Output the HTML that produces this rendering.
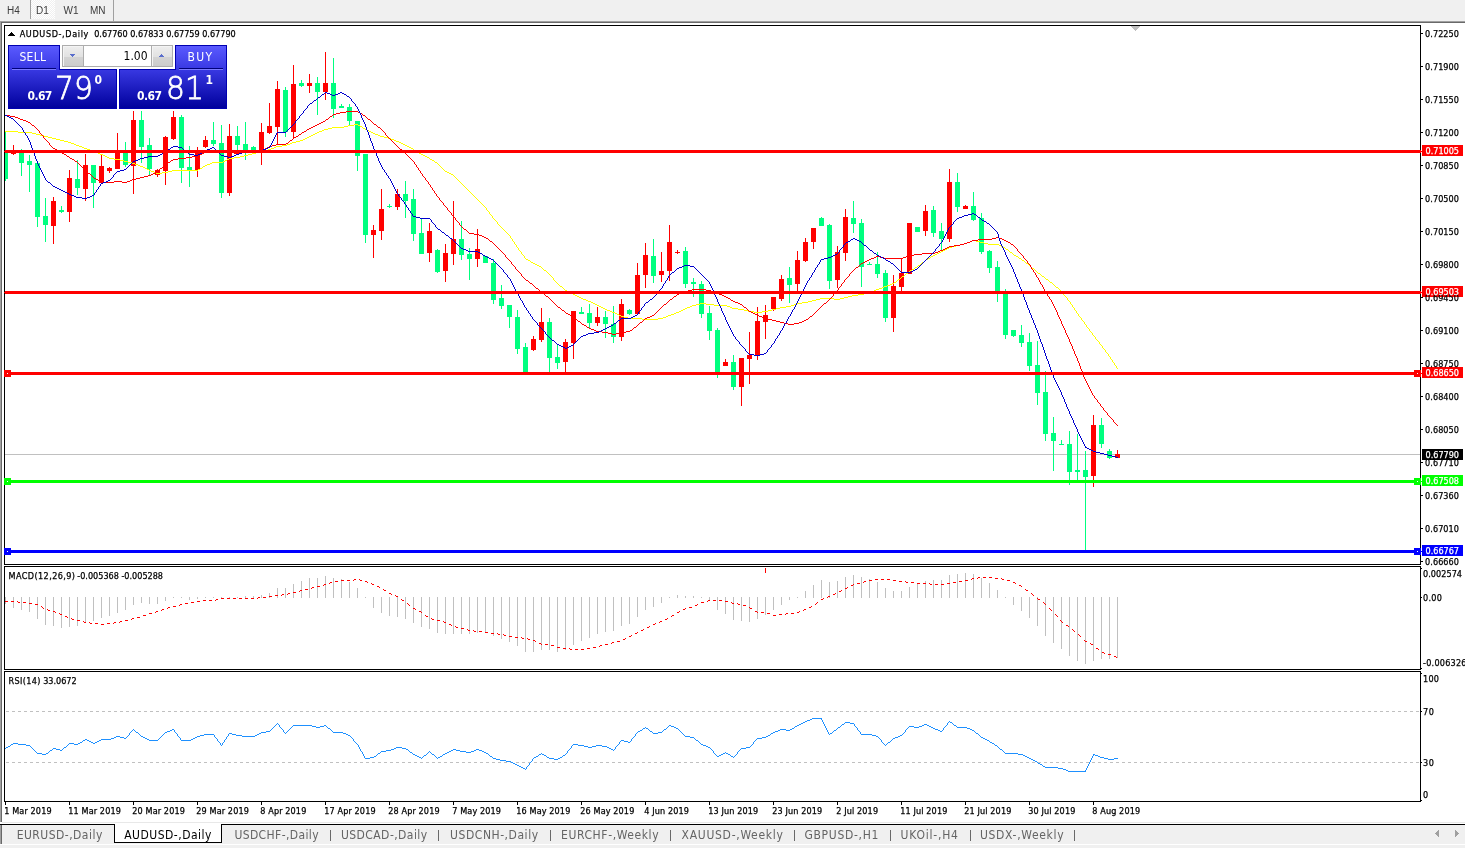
<!DOCTYPE html>
<html><head><meta charset="utf-8"><title>AUDUSD-,Daily</title>
<style>
html,body{margin:0;padding:0;}
body{width:1465px;height:848px;background:#fff;position:relative;overflow:hidden;font-family:"DejaVu Sans Condensed","Liberation Sans",sans-serif;}
.t{position:absolute;white-space:nowrap;line-height:1;}
.s{-webkit-text-stroke:0.25px currentColor;}
svg{position:absolute;left:0;top:0;}
.bx{position:absolute;left:1422px;width:41px;height:11px;}
#top{position:absolute;left:0;top:0;width:1465px;height:21px;background:#f0f0f0;}
#topline{position:absolute;left:0;top:21px;width:1465px;height:2px;background:linear-gradient(#a0a0a0 50%,#696969 50%);}
#leftband{position:absolute;left:0;top:22px;width:2px;height:800px;background:linear-gradient(90deg,#a0a0a0 50%,#696969 50%);}
#leftband2{position:absolute;left:0;top:825px;width:2px;height:19px;background:linear-gradient(90deg,#a0a0a0 50%,#696969 50%);}
#bot{position:absolute;left:0;top:825px;width:1465px;height:23px;background:#f0f0f0;}
#botline{position:absolute;left:0;top:824px;width:1465px;height:1px;background:#000;}
#botline0{position:absolute;left:2px;top:822px;width:1465px;height:1px;background:#e8e8e8;}
#botw{position:absolute;left:0;top:844px;width:1465px;height:1px;background:#fff;}
#act{position:absolute;left:114px;top:824px;width:106px;height:18px;background:#fff;border:1px solid #000;border-top:none;}
.sep{position:absolute;top:830px;width:1px;height:11px;background:#696969;}
.bigd{position:absolute;color:#fff;font-family:"DejaVu Sans","Liberation Sans",sans-serif;font-weight:200;font-size:32px;line-height:1;white-space:nowrap;-webkit-text-stroke:0.8px #fff;transform-origin:0 0;transform:scaleX(0.93);}
</style></head><body>
<div id="top"></div><div id="topline"></div>
<div id="leftband"></div>
<div style="position:absolute;left:30px;top:0;width:1px;height:19px;background:#a0a0a0"></div>
<div style="position:absolute;left:31px;top:0;width:24px;height:19px;background:#f8f8f8;background-image:conic-gradient(#fff 25%,#f0f0f0 0 50%,#fff 0 75%,#f0f0f0 0);background-size:2px 2px"></div>
<div style="position:absolute;left:113px;top:0;width:1px;height:21px;background:#a0a0a0"></div>
<svg width="1465" height="848" viewBox="0 0 1465 848" shape-rendering="crispEdges">
<defs><clipPath id="cp"><rect x="5" y="26" width="1415" height="776"/></clipPath></defs><g clip-path="url(#cp)">
<rect x="5" y="454" width="1415" height="1" fill="#c0c0c0"/>
<rect x="5" y="131" width="1" height="50" fill="#00ff7f"/>
<rect x="3" y="150" width="5" height="29" fill="#00ff7f"/>
<rect x="13" y="145" width="1" height="10" fill="#ff0000"/>
<rect x="11" y="150" width="5" height="4" fill="#ff0000"/>
<rect x="21" y="149" width="1" height="27" fill="#00ff7f"/>
<rect x="19" y="153" width="5" height="10" fill="#00ff7f"/>
<rect x="29" y="155" width="1" height="37" fill="#00ff7f"/>
<rect x="27" y="161" width="5" height="4" fill="#00ff7f"/>
<rect x="37" y="163" width="1" height="64" fill="#00ff7f"/>
<rect x="35" y="163" width="5" height="54" fill="#00ff7f"/>
<rect x="45" y="198" width="1" height="44" fill="#00ff7f"/>
<rect x="43" y="216" width="5" height="9" fill="#00ff7f"/>
<rect x="53" y="197" width="1" height="47" fill="#ff0000"/>
<rect x="51" y="201" width="5" height="25" fill="#ff0000"/>
<rect x="61" y="206" width="1" height="7" fill="#00ff7f"/>
<rect x="59" y="210" width="5" height="2" fill="#00ff7f"/>
<rect x="69" y="170" width="1" height="52" fill="#ff0000"/>
<rect x="67" y="178" width="5" height="34" fill="#ff0000"/>
<rect x="77" y="160" width="1" height="35" fill="#00ff7f"/>
<rect x="75" y="179" width="5" height="9" fill="#00ff7f"/>
<rect x="85" y="154" width="1" height="47" fill="#ff0000"/>
<rect x="83" y="165" width="5" height="24" fill="#ff0000"/>
<rect x="93" y="165" width="1" height="43" fill="#00ff7f"/>
<rect x="91" y="165" width="5" height="18" fill="#00ff7f"/>
<rect x="101" y="155" width="1" height="28" fill="#ff0000"/>
<rect x="99" y="166" width="5" height="17" fill="#ff0000"/>
<rect x="109" y="167" width="1" height="6" fill="#ff0000"/>
<rect x="107" y="168" width="5" height="3" fill="#ff0000"/>
<rect x="117" y="133" width="1" height="36" fill="#ff0000"/>
<rect x="115" y="152" width="5" height="17" fill="#ff0000"/>
<rect x="125" y="142" width="1" height="25" fill="#00ff7f"/>
<rect x="123" y="153" width="5" height="12" fill="#00ff7f"/>
<rect x="133" y="111" width="1" height="83" fill="#ff0000"/>
<rect x="131" y="120" width="5" height="46" fill="#ff0000"/>
<rect x="141" y="111" width="1" height="52" fill="#00ff7f"/>
<rect x="139" y="120" width="5" height="27" fill="#00ff7f"/>
<rect x="149" y="138" width="1" height="38" fill="#00ff7f"/>
<rect x="147" y="145" width="5" height="24" fill="#00ff7f"/>
<rect x="157" y="169" width="1" height="8" fill="#ff0000"/>
<rect x="155" y="170" width="5" height="5" fill="#ff0000"/>
<rect x="165" y="136" width="1" height="49" fill="#ff0000"/>
<rect x="163" y="137" width="5" height="34" fill="#ff0000"/>
<rect x="173" y="111" width="1" height="29" fill="#ff0000"/>
<rect x="171" y="117" width="5" height="22" fill="#ff0000"/>
<rect x="181" y="115" width="1" height="68" fill="#00ff7f"/>
<rect x="179" y="117" width="5" height="51" fill="#00ff7f"/>
<rect x="189" y="146" width="1" height="41" fill="#00ff7f"/>
<rect x="187" y="167" width="5" height="3" fill="#00ff7f"/>
<rect x="197" y="147" width="1" height="30" fill="#ff0000"/>
<rect x="195" y="151" width="5" height="19" fill="#ff0000"/>
<rect x="205" y="136" width="1" height="12" fill="#ff0000"/>
<rect x="203" y="140" width="5" height="7" fill="#ff0000"/>
<rect x="213" y="122" width="1" height="24" fill="#00ff7f"/>
<rect x="211" y="140" width="5" height="4" fill="#00ff7f"/>
<rect x="221" y="125" width="1" height="73" fill="#00ff7f"/>
<rect x="219" y="143" width="5" height="50" fill="#00ff7f"/>
<rect x="229" y="124" width="1" height="72" fill="#ff0000"/>
<rect x="227" y="136" width="5" height="57" fill="#ff0000"/>
<rect x="237" y="126" width="1" height="24" fill="#00ff7f"/>
<rect x="235" y="136" width="5" height="9" fill="#00ff7f"/>
<rect x="245" y="122" width="1" height="38" fill="#00ff7f"/>
<rect x="243" y="144" width="5" height="6" fill="#00ff7f"/>
<rect x="253" y="146" width="1" height="4" fill="#00ff7f"/>
<rect x="251" y="147" width="5" height="3" fill="#00ff7f"/>
<rect x="261" y="123" width="1" height="42" fill="#ff0000"/>
<rect x="259" y="132" width="5" height="20" fill="#ff0000"/>
<rect x="269" y="103" width="1" height="31" fill="#ff0000"/>
<rect x="267" y="126" width="5" height="7" fill="#ff0000"/>
<rect x="277" y="81" width="1" height="63" fill="#ff0000"/>
<rect x="275" y="89" width="5" height="38" fill="#ff0000"/>
<rect x="285" y="87" width="1" height="50" fill="#00ff7f"/>
<rect x="283" y="90" width="5" height="42" fill="#00ff7f"/>
<rect x="293" y="65" width="1" height="73" fill="#ff0000"/>
<rect x="291" y="84" width="5" height="48" fill="#ff0000"/>
<rect x="301" y="80" width="1" height="7" fill="#00ff7f"/>
<rect x="299" y="83" width="5" height="3" fill="#00ff7f"/>
<rect x="309" y="74" width="1" height="19" fill="#ff0000"/>
<rect x="307" y="83" width="5" height="3" fill="#ff0000"/>
<rect x="317" y="77" width="1" height="38" fill="#00ff7f"/>
<rect x="315" y="83" width="5" height="9" fill="#00ff7f"/>
<rect x="325" y="52" width="1" height="48" fill="#ff0000"/>
<rect x="323" y="83" width="5" height="9" fill="#ff0000"/>
<rect x="333" y="58" width="1" height="60" fill="#00ff7f"/>
<rect x="331" y="83" width="5" height="26" fill="#00ff7f"/>
<rect x="341" y="104" width="1" height="4" fill="#00ff7f"/>
<rect x="339" y="106" width="5" height="2" fill="#00ff7f"/>
<rect x="349" y="104" width="1" height="21" fill="#00ff7f"/>
<rect x="347" y="107" width="5" height="14" fill="#00ff7f"/>
<rect x="357" y="121" width="1" height="50" fill="#00ff7f"/>
<rect x="355" y="121" width="5" height="35" fill="#00ff7f"/>
<rect x="365" y="154" width="1" height="89" fill="#00ff7f"/>
<rect x="363" y="154" width="5" height="81" fill="#00ff7f"/>
<rect x="373" y="225" width="1" height="33" fill="#ff0000"/>
<rect x="371" y="230" width="5" height="5" fill="#ff0000"/>
<rect x="381" y="189" width="1" height="51" fill="#ff0000"/>
<rect x="379" y="209" width="5" height="22" fill="#ff0000"/>
<rect x="389" y="204" width="1" height="4" fill="#00ff7f"/>
<rect x="387" y="206" width="5" height="1" fill="#00ff7f"/>
<rect x="397" y="189" width="1" height="21" fill="#ff0000"/>
<rect x="395" y="194" width="5" height="13" fill="#ff0000"/>
<rect x="405" y="181" width="1" height="37" fill="#00ff7f"/>
<rect x="403" y="194" width="5" height="7" fill="#00ff7f"/>
<rect x="413" y="189" width="1" height="52" fill="#00ff7f"/>
<rect x="411" y="199" width="5" height="35" fill="#00ff7f"/>
<rect x="421" y="219" width="1" height="35" fill="#00ff7f"/>
<rect x="419" y="233" width="5" height="21" fill="#00ff7f"/>
<rect x="429" y="223" width="1" height="39" fill="#ff0000"/>
<rect x="427" y="231" width="5" height="22" fill="#ff0000"/>
<rect x="437" y="249" width="1" height="24" fill="#00ff7f"/>
<rect x="435" y="250" width="5" height="22" fill="#00ff7f"/>
<rect x="445" y="244" width="1" height="38" fill="#ff0000"/>
<rect x="443" y="253" width="5" height="18" fill="#ff0000"/>
<rect x="453" y="201" width="1" height="64" fill="#ff0000"/>
<rect x="451" y="239" width="5" height="15" fill="#ff0000"/>
<rect x="461" y="221" width="1" height="39" fill="#00ff7f"/>
<rect x="459" y="239" width="5" height="16" fill="#00ff7f"/>
<rect x="469" y="248" width="1" height="32" fill="#00ff7f"/>
<rect x="467" y="254" width="5" height="5" fill="#00ff7f"/>
<rect x="477" y="229" width="1" height="38" fill="#ff0000"/>
<rect x="475" y="249" width="5" height="10" fill="#ff0000"/>
<rect x="485" y="256" width="1" height="7" fill="#00ff7f"/>
<rect x="483" y="256" width="5" height="7" fill="#00ff7f"/>
<rect x="493" y="259" width="1" height="45" fill="#00ff7f"/>
<rect x="491" y="263" width="5" height="37" fill="#00ff7f"/>
<rect x="501" y="285" width="1" height="24" fill="#00ff7f"/>
<rect x="499" y="298" width="5" height="8" fill="#00ff7f"/>
<rect x="509" y="305" width="1" height="23" fill="#00ff7f"/>
<rect x="507" y="305" width="5" height="12" fill="#00ff7f"/>
<rect x="517" y="310" width="1" height="44" fill="#00ff7f"/>
<rect x="515" y="317" width="5" height="32" fill="#00ff7f"/>
<rect x="525" y="343" width="1" height="31" fill="#00ff7f"/>
<rect x="523" y="347" width="5" height="27" fill="#00ff7f"/>
<rect x="533" y="336" width="1" height="15" fill="#ff0000"/>
<rect x="531" y="339" width="5" height="11" fill="#ff0000"/>
<rect x="541" y="308" width="1" height="34" fill="#ff0000"/>
<rect x="539" y="322" width="5" height="18" fill="#ff0000"/>
<rect x="549" y="318" width="1" height="56" fill="#00ff7f"/>
<rect x="547" y="322" width="5" height="36" fill="#00ff7f"/>
<rect x="557" y="344" width="1" height="25" fill="#00ff7f"/>
<rect x="555" y="357" width="5" height="6" fill="#00ff7f"/>
<rect x="565" y="339" width="1" height="34" fill="#ff0000"/>
<rect x="563" y="342" width="5" height="20" fill="#ff0000"/>
<rect x="573" y="311" width="1" height="48" fill="#ff0000"/>
<rect x="571" y="311" width="5" height="32" fill="#ff0000"/>
<rect x="581" y="307" width="1" height="7" fill="#00ff7f"/>
<rect x="579" y="312" width="5" height="2" fill="#00ff7f"/>
<rect x="589" y="304" width="1" height="25" fill="#00ff7f"/>
<rect x="587" y="313" width="5" height="10" fill="#00ff7f"/>
<rect x="597" y="307" width="1" height="19" fill="#ff0000"/>
<rect x="595" y="317" width="5" height="6" fill="#ff0000"/>
<rect x="605" y="311" width="1" height="27" fill="#00ff7f"/>
<rect x="603" y="317" width="5" height="7" fill="#00ff7f"/>
<rect x="613" y="306" width="1" height="37" fill="#00ff7f"/>
<rect x="611" y="324" width="5" height="13" fill="#00ff7f"/>
<rect x="621" y="299" width="1" height="42" fill="#ff0000"/>
<rect x="619" y="304" width="5" height="33" fill="#ff0000"/>
<rect x="629" y="309" width="1" height="6" fill="#00ff7f"/>
<rect x="627" y="310" width="5" height="4" fill="#00ff7f"/>
<rect x="637" y="263" width="1" height="52" fill="#ff0000"/>
<rect x="635" y="275" width="5" height="39" fill="#ff0000"/>
<rect x="645" y="243" width="1" height="45" fill="#ff0000"/>
<rect x="643" y="255" width="5" height="20" fill="#ff0000"/>
<rect x="653" y="239" width="1" height="44" fill="#00ff7f"/>
<rect x="651" y="256" width="5" height="20" fill="#00ff7f"/>
<rect x="661" y="252" width="1" height="30" fill="#ff0000"/>
<rect x="659" y="271" width="5" height="4" fill="#ff0000"/>
<rect x="669" y="225" width="1" height="56" fill="#ff0000"/>
<rect x="667" y="242" width="5" height="29" fill="#ff0000"/>
<rect x="677" y="250" width="1" height="4" fill="#ff0000"/>
<rect x="675" y="252" width="5" height="1" fill="#ff0000"/>
<rect x="685" y="247" width="1" height="41" fill="#00ff7f"/>
<rect x="683" y="251" width="5" height="33" fill="#00ff7f"/>
<rect x="693" y="278" width="1" height="19" fill="#00ff7f"/>
<rect x="691" y="282" width="5" height="2" fill="#00ff7f"/>
<rect x="701" y="281" width="1" height="37" fill="#00ff7f"/>
<rect x="699" y="284" width="5" height="30" fill="#00ff7f"/>
<rect x="709" y="306" width="1" height="34" fill="#00ff7f"/>
<rect x="707" y="313" width="5" height="18" fill="#00ff7f"/>
<rect x="717" y="328" width="1" height="50" fill="#00ff7f"/>
<rect x="715" y="330" width="5" height="44" fill="#00ff7f"/>
<rect x="725" y="359" width="1" height="7" fill="#ff0000"/>
<rect x="723" y="362" width="5" height="4" fill="#ff0000"/>
<rect x="733" y="355" width="1" height="35" fill="#00ff7f"/>
<rect x="731" y="362" width="5" height="25" fill="#00ff7f"/>
<rect x="741" y="358" width="1" height="48" fill="#ff0000"/>
<rect x="739" y="358" width="5" height="29" fill="#ff0000"/>
<rect x="749" y="332" width="1" height="52" fill="#ff0000"/>
<rect x="747" y="355" width="5" height="4" fill="#ff0000"/>
<rect x="757" y="307" width="1" height="53" fill="#ff0000"/>
<rect x="755" y="321" width="5" height="35" fill="#ff0000"/>
<rect x="765" y="305" width="1" height="34" fill="#ff0000"/>
<rect x="763" y="315" width="5" height="7" fill="#ff0000"/>
<rect x="773" y="297" width="1" height="14" fill="#ff0000"/>
<rect x="771" y="297" width="5" height="12" fill="#ff0000"/>
<rect x="781" y="275" width="1" height="26" fill="#ff0000"/>
<rect x="779" y="279" width="5" height="20" fill="#ff0000"/>
<rect x="789" y="267" width="1" height="36" fill="#00ff7f"/>
<rect x="787" y="278" width="5" height="7" fill="#00ff7f"/>
<rect x="797" y="251" width="1" height="40" fill="#ff0000"/>
<rect x="795" y="260" width="5" height="24" fill="#ff0000"/>
<rect x="805" y="238" width="1" height="24" fill="#ff0000"/>
<rect x="803" y="242" width="5" height="19" fill="#ff0000"/>
<rect x="813" y="228" width="1" height="21" fill="#ff0000"/>
<rect x="811" y="228" width="5" height="14" fill="#ff0000"/>
<rect x="821" y="217" width="1" height="9" fill="#00ff7f"/>
<rect x="819" y="218" width="5" height="8" fill="#00ff7f"/>
<rect x="829" y="224" width="1" height="65" fill="#00ff7f"/>
<rect x="827" y="225" width="5" height="56" fill="#00ff7f"/>
<rect x="837" y="246" width="1" height="42" fill="#ff0000"/>
<rect x="835" y="252" width="5" height="28" fill="#ff0000"/>
<rect x="845" y="209" width="1" height="52" fill="#ff0000"/>
<rect x="843" y="217" width="5" height="36" fill="#ff0000"/>
<rect x="853" y="201" width="1" height="32" fill="#00ff7f"/>
<rect x="851" y="218" width="5" height="6" fill="#00ff7f"/>
<rect x="861" y="219" width="1" height="68" fill="#00ff7f"/>
<rect x="859" y="223" width="5" height="44" fill="#00ff7f"/>
<rect x="869" y="262" width="1" height="3" fill="#00ff7f"/>
<rect x="867" y="264" width="5" height="1" fill="#00ff7f"/>
<rect x="877" y="252" width="1" height="26" fill="#00ff7f"/>
<rect x="875" y="264" width="5" height="10" fill="#00ff7f"/>
<rect x="885" y="270" width="1" height="52" fill="#00ff7f"/>
<rect x="883" y="273" width="5" height="45" fill="#00ff7f"/>
<rect x="893" y="275" width="1" height="57" fill="#ff0000"/>
<rect x="891" y="286" width="5" height="32" fill="#ff0000"/>
<rect x="901" y="259" width="1" height="32" fill="#ff0000"/>
<rect x="899" y="273" width="5" height="14" fill="#ff0000"/>
<rect x="909" y="223" width="1" height="51" fill="#ff0000"/>
<rect x="907" y="223" width="5" height="51" fill="#ff0000"/>
<rect x="917" y="227" width="1" height="5" fill="#00ff7f"/>
<rect x="915" y="227" width="5" height="5" fill="#00ff7f"/>
<rect x="925" y="205" width="1" height="31" fill="#ff0000"/>
<rect x="923" y="211" width="5" height="20" fill="#ff0000"/>
<rect x="933" y="206" width="1" height="31" fill="#00ff7f"/>
<rect x="931" y="210" width="5" height="23" fill="#00ff7f"/>
<rect x="941" y="223" width="1" height="27" fill="#00ff7f"/>
<rect x="939" y="231" width="5" height="8" fill="#00ff7f"/>
<rect x="949" y="169" width="1" height="73" fill="#ff0000"/>
<rect x="947" y="182" width="5" height="57" fill="#ff0000"/>
<rect x="957" y="173" width="1" height="39" fill="#00ff7f"/>
<rect x="955" y="182" width="5" height="25" fill="#00ff7f"/>
<rect x="965" y="205" width="1" height="4" fill="#ff0000"/>
<rect x="963" y="206" width="5" height="3" fill="#ff0000"/>
<rect x="973" y="192" width="1" height="29" fill="#00ff7f"/>
<rect x="971" y="206" width="5" height="14" fill="#00ff7f"/>
<rect x="981" y="213" width="1" height="41" fill="#00ff7f"/>
<rect x="979" y="218" width="5" height="34" fill="#00ff7f"/>
<rect x="989" y="250" width="1" height="23" fill="#00ff7f"/>
<rect x="987" y="251" width="5" height="17" fill="#00ff7f"/>
<rect x="997" y="261" width="1" height="41" fill="#00ff7f"/>
<rect x="995" y="267" width="5" height="26" fill="#00ff7f"/>
<rect x="1005" y="289" width="1" height="50" fill="#00ff7f"/>
<rect x="1003" y="294" width="5" height="41" fill="#00ff7f"/>
<rect x="1013" y="330" width="1" height="7" fill="#00ff7f"/>
<rect x="1011" y="330" width="5" height="6" fill="#00ff7f"/>
<rect x="1021" y="325" width="1" height="22" fill="#00ff7f"/>
<rect x="1019" y="335" width="5" height="8" fill="#00ff7f"/>
<rect x="1029" y="333" width="1" height="38" fill="#00ff7f"/>
<rect x="1027" y="342" width="5" height="24" fill="#00ff7f"/>
<rect x="1037" y="341" width="1" height="64" fill="#00ff7f"/>
<rect x="1035" y="365" width="5" height="28" fill="#00ff7f"/>
<rect x="1045" y="371" width="1" height="70" fill="#00ff7f"/>
<rect x="1043" y="392" width="5" height="42" fill="#00ff7f"/>
<rect x="1053" y="417" width="1" height="54" fill="#00ff7f"/>
<rect x="1051" y="433" width="5" height="8" fill="#00ff7f"/>
<rect x="1061" y="440" width="1" height="5" fill="#00ff7f"/>
<rect x="1059" y="444" width="5" height="1" fill="#00ff7f"/>
<rect x="1069" y="431" width="1" height="54" fill="#00ff7f"/>
<rect x="1067" y="444" width="5" height="28" fill="#00ff7f"/>
<rect x="1077" y="434" width="1" height="49" fill="#00ff7f"/>
<rect x="1075" y="470" width="5" height="2" fill="#00ff7f"/>
<rect x="1085" y="451" width="1" height="99" fill="#00ff7f"/>
<rect x="1083" y="470" width="5" height="7" fill="#00ff7f"/>
<rect x="1093" y="415" width="1" height="72" fill="#ff0000"/>
<rect x="1091" y="425" width="5" height="51" fill="#ff0000"/>
<rect x="1101" y="418" width="1" height="30" fill="#00ff7f"/>
<rect x="1099" y="425" width="5" height="19" fill="#00ff7f"/>
<rect x="1109" y="449" width="1" height="10" fill="#00ff7f"/>
<rect x="1107" y="451" width="5" height="7" fill="#00ff7f"/>
<rect x="1117" y="450" width="1" height="8" fill="#ff0000"/>
<rect x="1115" y="454" width="5" height="4" fill="#ff0000"/>
<path d="M354 124h4v1h-4zM348 125h6v1h-6zM358 125h2v1h-2zM344 126h4v1h-4zM360 126h2v1h-2zM332 127h12v1h-12zM362 127h1v1h-1zM328 128h4v1h-4zM363 128h2v1h-2zM324 129h4v1h-4zM365 129h2v1h-2zM322 130h2v1h-2zM367 130h2v1h-2zM5 131h13v1h-13zM319 131h3v1h-3zM369 131h2v1h-2zM18 132h14v1h-14zM317 132h2v1h-2zM371 132h2v1h-2zM32 133h4v1h-4zM315 133h2v1h-2zM373 133h2v1h-2zM36 134h4v1h-4zM313 134h2v1h-2zM375 134h3v1h-3zM40 135h4v1h-4zM311 135h2v1h-2zM378 135h2v1h-2zM44 136h4v1h-4zM309 136h2v1h-2zM380 136h4v1h-4zM48 137h4v1h-4zM307 137h2v1h-2zM384 137h4v1h-4zM52 138h4v1h-4zM305 138h2v1h-2zM388 138h3v1h-3zM56 139h4v1h-4zM303 139h2v1h-2zM391 139h3v1h-3zM60 140h4v1h-4zM300 140h3v1h-3zM394 140h2v1h-2zM64 141h4v1h-4zM296 141h4v1h-4zM396 141h3v1h-3zM68 142h3v1h-3zM292 142h4v1h-4zM399 142h2v1h-2zM71 143h3v1h-3zM290 143h2v1h-2zM401 143h2v1h-2zM74 144h2v1h-2zM287 144h3v1h-3zM403 144h2v1h-2zM76 145h3v1h-3zM282 145h5v1h-5zM405 145h2v1h-2zM79 146h3v1h-3zM276 146h6v1h-6zM407 146h2v1h-2zM82 147h2v1h-2zM274 147h2v1h-2zM409 147h2v1h-2zM84 148h3v1h-3zM271 148h3v1h-3zM411 148h2v1h-2zM87 149h3v1h-3zM268 149h3v1h-3zM413 149h1v1h-1zM90 150h2v1h-2zM264 150h4v1h-4zM414 150h2v1h-2zM92 151h3v1h-3zM260 151h4v1h-4zM416 151h2v1h-2zM95 152h3v1h-3zM256 152h4v1h-4zM418 152h1v1h-1zM98 153h2v1h-2zM252 153h4v1h-4zM419 153h2v1h-2zM100 154h3v1h-3zM248 154h4v1h-4zM421 154h2v1h-2zM103 155h2v1h-2zM244 155h4v1h-4zM423 155h2v1h-2zM105 156h2v1h-2zM240 156h4v1h-4zM425 156h2v1h-2zM107 157h2v1h-2zM234 157h6v1h-6zM427 157h2v1h-2zM109 158h5v1h-5zM229 158h5v1h-5zM429 158h1v1h-1zM114 159h6v1h-6zM227 159h2v1h-2zM430 159h2v1h-2zM120 160h4v1h-4zM225 160h2v1h-2zM432 160h2v1h-2zM124 161h4v1h-4zM223 161h2v1h-2zM434 161h1v1h-1zM128 162h4v1h-4zM212 162h11v1h-11zM435 162h2v1h-2zM132 163h3v1h-3zM210 163h2v1h-2zM437 163h1v1h-1zM135 164h3v1h-3zM207 164h3v1h-3zM438 164h1v1h-1zM138 165h2v1h-2zM205 165h2v1h-2zM439 165h1v1h-1zM140 166h3v1h-3zM203 166h2v1h-2zM440 166h1v1h-1zM143 167h2v1h-2zM202 167h1v1h-1zM441 167h1v1h-1zM145 168h2v1h-2zM200 168h2v1h-2zM442 168h1v1h-1zM147 169h2v1h-2zM198 169h2v1h-2zM443 169h1v1h-1zM149 170h2v1h-2zM172 170h26v1h-26zM444 170h1v1h-1zM151 171h3v1h-3zM168 171h4v1h-4zM445 171h2v1h-2zM154 172h2v1h-2zM162 172h6v1h-6zM447 172h2v1h-2zM156 173h6v1h-6zM449 173h2v1h-2zM451 174h2v1h-2zM453 175h1v1h-1zM454 176h1v1h-1zM455 177h1v1h-1zM456 178h1v1h-1zM457 179h1v1h-1zM458 180h1v1h-1zM459 181h1v1h-1zM460 182h1v1h-1zM461 183h1v1h-1zM462 184h1v1h-1zM463 185h1v1h-1zM464 186h1v1h-1zM465 187h1v1h-1zM466 188h1v1h-1zM467 189h1v1h-1zM468 190h1v1h-1zM469 191h1v1h-1zM470 192h1v1h-1zM471 193h1v1h-1zM472 194h1v1h-1zM473 195h1v1h-1zM474 196h1v1h-1zM475 197h1v1h-1zM476 198h1v1h-1zM477 199h1v1h-1zM478 200h1v1h-1zM479 201h1v1h-1zM480 202h1v1h-1zM481 203h1v1h-1zM482 204h1v1h-1zM483 205h1v1h-1zM484 206h1v1h-1zM485 207h1v1h-1zM486 208h1v2h-1zM487 210h1v1h-1zM488 211h1v1h-1zM489 212h1v2h-1zM490 214h1v1h-1zM491 215h1v1h-1zM492 216h1v2h-1zM493 218h1v1h-1zM494 219h1v1h-1zM495 220h1v1h-1zM496 221h1v1h-1zM497 222h1v2h-1zM498 224h1v1h-1zM499 225h1v1h-1zM500 226h1v1h-1zM501 227h1v1h-1zM502 228h1v1h-1zM503 229h1v1h-1zM504 230h1v1h-1zM505 231h1v1h-1zM506 232h1v1h-1zM507 233h1v1h-1zM508 234h1v1h-1zM509 235h1v1h-1zM510 236h1v2h-1zM511 238h1v1h-1zM512 239h1v2h-1zM972 240h4v1h-4zM513 241h1v1h-1zM970 241h2v1h-2zM976 241h4v1h-4zM514 242h1v2h-1zM967 242h3v1h-3zM980 242h4v1h-4zM964 243h3v1h-3zM984 243h4v1h-4zM515 244h1v1h-1zM960 244h4v1h-4zM988 244h11v1h-11zM516 245h1v2h-1zM956 245h4v1h-4zM999 245h2v1h-2zM952 246h4v1h-4zM1001 246h2v1h-2zM517 247h1v1h-1zM949 247h3v1h-3zM1003 247h2v1h-2zM518 248h1v2h-1zM947 248h2v1h-2zM1005 248h1v1h-1zM945 249h2v1h-2zM1006 249h2v1h-2zM519 250h1v1h-1zM943 250h2v1h-2zM1008 250h1v1h-1zM520 251h1v1h-1zM941 251h2v1h-2zM1009 251h1v1h-1zM521 252h1v2h-1zM939 252h2v1h-2zM1010 252h2v1h-2zM937 253h2v1h-2zM1012 253h1v1h-1zM522 254h1v1h-1zM935 254h2v1h-2zM1013 254h1v1h-1zM523 255h1v1h-1zM933 255h2v1h-2zM1014 255h2v1h-2zM524 256h1v2h-1zM931 256h2v1h-2zM1016 256h2v1h-2zM930 257h1v1h-1zM1018 257h1v1h-1zM525 258h1v1h-1zM928 258h2v1h-2zM1019 258h2v1h-2zM526 259h2v1h-2zM926 259h2v1h-2zM1021 259h1v1h-1zM528 260h2v1h-2zM925 260h1v1h-1zM1022 260h2v1h-2zM530 261h1v1h-1zM924 261h1v1h-1zM1024 261h1v1h-1zM531 262h2v1h-2zM922 262h2v1h-2zM1025 262h1v1h-1zM533 263h2v1h-2zM921 263h1v1h-1zM1026 263h2v1h-2zM535 264h2v1h-2zM920 264h1v1h-1zM1028 264h1v1h-1zM537 265h2v1h-2zM918 265h2v1h-2zM1029 265h1v1h-1zM539 266h2v1h-2zM917 266h1v1h-1zM1030 266h1v1h-1zM541 267h1v1h-1zM915 267h2v1h-2zM1031 267h1v1h-1zM542 268h1v1h-1zM914 268h1v1h-1zM1032 268h2v1h-2zM543 269h1v1h-1zM912 269h2v1h-2zM1034 269h1v1h-1zM544 270h2v1h-2zM910 270h2v1h-2zM1035 270h1v1h-1zM546 271h1v1h-1zM909 271h1v1h-1zM1036 271h1v1h-1zM547 272h1v1h-1zM908 272h1v1h-1zM1037 272h1v1h-1zM548 273h1v1h-1zM906 273h2v1h-2zM1038 273h2v1h-2zM549 274h1v1h-1zM905 274h1v1h-1zM1040 274h1v1h-1zM550 275h1v1h-1zM904 275h1v1h-1zM1041 275h1v1h-1zM551 276h1v1h-1zM902 276h2v1h-2zM1042 276h2v1h-2zM552 277h1v1h-1zM901 277h1v1h-1zM1044 277h1v1h-1zM553 278h1v2h-1zM900 278h1v1h-1zM1045 278h1v1h-1zM898 279h2v1h-2zM1046 279h2v1h-2zM554 280h1v1h-1zM897 280h1v1h-1zM1048 280h1v1h-1zM555 281h1v1h-1zM896 281h1v1h-1zM1049 281h1v1h-1zM556 282h1v1h-1zM894 282h2v1h-2zM1050 282h2v1h-2zM557 283h1v1h-1zM892 283h2v1h-2zM1052 283h1v1h-1zM558 284h1v1h-1zM890 284h2v1h-2zM1053 284h1v1h-1zM559 285h1v1h-1zM887 285h3v1h-3zM1054 285h1v1h-1zM560 286h2v1h-2zM884 286h3v1h-3zM1055 286h1v1h-1zM562 287h1v1h-1zM882 287h2v1h-2zM1056 287h2v1h-2zM563 288h1v1h-1zM879 288h3v1h-3zM1058 288h1v1h-1zM564 289h1v1h-1zM876 289h3v1h-3zM1059 289h1v1h-1zM565 290h2v1h-2zM874 290h2v1h-2zM1060 290h1v1h-1zM567 291h2v1h-2zM871 291h3v1h-3zM1061 291h1v1h-1zM569 292h2v1h-2zM868 292h3v1h-3zM1062 292h1v1h-1zM571 293h2v1h-2zM864 293h4v1h-4zM1063 293h1v2h-1zM573 294h2v1h-2zM858 294h6v1h-6zM575 295h2v1h-2zM852 295h6v1h-6zM1064 295h1v1h-1zM577 296h2v1h-2zM848 296h4v1h-4zM1065 296h1v1h-1zM579 297h2v1h-2zM844 297h4v1h-4zM1066 297h1v1h-1zM581 298h2v1h-2zM820 298h14v1h-14zM840 298h4v1h-4zM1067 298h1v2h-1zM583 299h3v1h-3zM816 299h4v1h-4zM834 299h6v1h-6zM586 300h2v1h-2zM812 300h4v1h-4zM1068 300h1v1h-1zM588 301h3v1h-3zM808 301h4v1h-4zM1069 301h1v1h-1zM591 302h2v1h-2zM802 302h6v1h-6zM1070 302h1v2h-1zM593 303h2v1h-2zM700 303h6v1h-6zM796 303h6v1h-6zM595 304h2v1h-2zM696 304h4v1h-4zM706 304h8v1h-8zM794 304h2v1h-2zM1071 304h1v1h-1zM597 305h2v1h-2zM692 305h4v1h-4zM714 305h13v1h-13zM791 305h3v1h-3zM1072 305h1v2h-1zM599 306h2v1h-2zM690 306h2v1h-2zM727 306h3v1h-3zM786 306h5v1h-5zM601 307h2v1h-2zM687 307h3v1h-3zM730 307h2v1h-2zM780 307h6v1h-6zM1073 307h1v1h-1zM603 308h2v1h-2zM685 308h2v1h-2zM732 308h6v1h-6zM776 308h4v1h-4zM1074 308h1v2h-1zM605 309h2v1h-2zM683 309h2v1h-2zM738 309h6v1h-6zM772 309h4v1h-4zM607 310h3v1h-3zM681 310h2v1h-2zM744 310h4v1h-4zM768 310h4v1h-4zM1075 310h1v1h-1zM610 311h2v1h-2zM679 311h2v1h-2zM748 311h6v1h-6zM762 311h6v1h-6zM1076 311h1v2h-1zM612 312h3v1h-3zM676 312h3v1h-3zM754 312h8v1h-8zM615 313h2v1h-2zM674 313h2v1h-2zM1077 313h1v1h-1zM617 314h2v1h-2zM671 314h3v1h-3zM1078 314h1v2h-1zM619 315h2v1h-2zM668 315h3v1h-3zM621 316h3v1h-3zM666 316h2v1h-2zM1079 316h1v1h-1zM624 317h4v1h-4zM663 317h3v1h-3zM1080 317h1v1h-1zM628 318h14v1h-14zM658 318h5v1h-5zM1081 318h1v2h-1zM642 319h16v1h-16zM1082 320h1v1h-1zM1083 321h1v1h-1zM1084 322h1v2h-1zM1085 324h1v1h-1zM1086 325h1v2h-1zM1087 327h1v1h-1zM1088 328h1v1h-1zM1089 329h1v2h-1zM1090 331h1v1h-1zM1091 332h1v1h-1zM1092 333h1v2h-1zM1093 335h1v1h-1zM1094 336h1v1h-1zM1095 337h1v2h-1zM1096 339h1v1h-1zM1097 340h1v1h-1zM1098 341h1v1h-1zM1099 342h1v2h-1zM1100 344h1v1h-1zM1101 345h1v1h-1zM1102 346h1v2h-1zM1103 348h1v1h-1zM1104 349h1v1h-1zM1105 350h1v2h-1zM1106 352h1v1h-1zM1107 353h1v1h-1zM1108 354h1v2h-1zM1109 356h1v1h-1zM1110 357h1v2h-1zM1111 359h1v1h-1zM1112 360h1v2h-1zM1113 362h1v1h-1zM1114 363h1v2h-1zM1115 365h1v1h-1zM1116 366h1v2h-1zM1117 368h1v1h-1z" fill="#ffff00"/>
<path d="M346 111h12v1h-12zM340 112h6v1h-6zM358 112h2v1h-2zM336 113h4v1h-4zM360 113h2v1h-2zM333 114h3v1h-3zM362 114h1v1h-1zM5 115h5v1h-5zM332 115h1v1h-1zM363 115h2v1h-2zM10 116h5v1h-5zM330 116h2v1h-2zM365 116h1v1h-1zM15 117h3v1h-3zM329 117h1v1h-1zM366 117h1v1h-1zM18 118h2v1h-2zM328 118h1v1h-1zM367 118h1v1h-1zM20 119h3v1h-3zM326 119h2v1h-2zM368 119h2v1h-2zM23 120h3v1h-3zM325 120h1v1h-1zM370 120h1v1h-1zM26 121h2v1h-2zM323 121h2v1h-2zM371 121h1v1h-1zM28 122h2v1h-2zM321 122h2v1h-2zM372 122h1v1h-1zM30 123h1v1h-1zM319 123h2v1h-2zM373 123h1v1h-1zM31 124h1v1h-1zM317 124h2v1h-2zM374 124h2v1h-2zM32 125h2v1h-2zM315 125h2v1h-2zM376 125h1v1h-1zM34 126h1v1h-1zM313 126h2v1h-2zM377 126h1v1h-1zM35 127h1v1h-1zM311 127h2v1h-2zM378 127h2v1h-2zM36 128h1v1h-1zM309 128h2v1h-2zM380 128h1v1h-1zM37 129h1v1h-1zM307 129h2v1h-2zM381 129h1v1h-1zM38 130h1v1h-1zM306 130h1v1h-1zM382 130h1v1h-1zM39 131h1v2h-1zM304 131h2v1h-2zM383 131h1v1h-1zM302 132h2v1h-2zM384 132h1v1h-1zM40 133h1v1h-1zM301 133h1v1h-1zM385 133h1v2h-1zM41 134h1v1h-1zM299 134h2v1h-2zM42 135h1v1h-1zM298 135h1v1h-1zM386 135h1v1h-1zM43 136h1v2h-1zM296 136h2v1h-2zM387 136h1v1h-1zM294 137h2v1h-2zM388 137h1v1h-1zM44 138h1v1h-1zM293 138h1v1h-1zM389 138h1v1h-1zM45 139h1v1h-1zM292 139h1v1h-1zM390 139h1v1h-1zM46 140h1v1h-1zM290 140h2v1h-2zM391 140h1v1h-1zM47 141h1v1h-1zM289 141h1v1h-1zM392 141h1v1h-1zM48 142h1v1h-1zM288 142h1v1h-1zM393 142h1v1h-1zM49 143h1v2h-1zM286 143h2v1h-2zM394 143h1v1h-1zM276 144h10v1h-10zM395 144h1v1h-1zM50 145h1v1h-1zM272 145h4v1h-4zM396 145h1v1h-1zM51 146h1v1h-1zM269 146h3v1h-3zM397 146h1v1h-1zM52 147h1v1h-1zM267 147h2v1h-2zM398 147h1v1h-1zM53 148h2v1h-2zM265 148h2v1h-2zM399 148h1v1h-1zM55 149h2v1h-2zM263 149h2v1h-2zM400 149h2v1h-2zM57 150h2v1h-2zM260 150h3v1h-3zM402 150h1v1h-1zM59 151h2v1h-2zM256 151h4v1h-4zM403 151h1v1h-1zM61 152h1v1h-1zM204 152h30v1h-30zM242 152h14v1h-14zM404 152h1v1h-1zM62 153h2v1h-2zM202 153h2v1h-2zM234 153h8v1h-8zM405 153h1v1h-1zM64 154h2v1h-2zM199 154h3v1h-3zM406 154h1v1h-1zM66 155h1v1h-1zM196 155h3v1h-3zM407 155h1v1h-1zM67 156h2v1h-2zM192 156h4v1h-4zM408 156h1v1h-1zM69 157h1v1h-1zM186 157h6v1h-6zM409 157h1v1h-1zM70 158h2v1h-2zM178 158h8v1h-8zM410 158h1v1h-1zM72 159h2v1h-2zM173 159h5v1h-5zM411 159h1v1h-1zM74 160h1v1h-1zM171 160h2v1h-2zM412 160h1v1h-1zM75 161h2v1h-2zM170 161h1v1h-1zM413 161h1v1h-1zM77 162h1v1h-1zM168 162h2v1h-2zM414 162h1v2h-1zM78 163h1v1h-1zM166 163h2v1h-2zM79 164h1v1h-1zM165 164h1v1h-1zM415 164h1v1h-1zM80 165h1v1h-1zM164 165h1v1h-1zM416 165h1v2h-1zM81 166h1v1h-1zM163 166h1v1h-1zM82 167h1v1h-1zM162 167h1v1h-1zM417 167h1v1h-1zM83 168h1v1h-1zM160 168h2v1h-2zM418 168h1v2h-1zM84 169h1v1h-1zM159 169h1v1h-1zM85 170h1v1h-1zM158 170h1v1h-1zM419 170h1v1h-1zM86 171h1v1h-1zM157 171h1v1h-1zM420 171h1v2h-1zM87 172h1v1h-1zM155 172h2v1h-2zM88 173h2v1h-2zM153 173h2v1h-2zM421 173h1v1h-1zM90 174h1v1h-1zM151 174h2v1h-2zM422 174h1v2h-1zM91 175h1v1h-1zM148 175h3v1h-3zM92 176h1v1h-1zM144 176h4v1h-4zM423 176h1v1h-1zM93 177h1v1h-1zM140 177h4v1h-4zM424 177h1v1h-1zM94 178h2v1h-2zM136 178h4v1h-4zM425 178h1v2h-1zM96 179h2v1h-2zM132 179h4v1h-4zM98 180h1v1h-1zM130 180h2v1h-2zM426 180h1v1h-1zM99 181h2v1h-2zM114 181h8v1h-8zM127 181h3v1h-3zM427 181h1v1h-1zM101 182h13v1h-13zM122 182h5v1h-5zM428 182h1v2h-1zM429 184h1v1h-1zM430 185h1v2h-1zM431 187h1v1h-1zM432 188h1v2h-1zM433 190h1v1h-1zM434 191h1v2h-1zM435 193h1v1h-1zM436 194h1v2h-1zM437 196h1v1h-1zM438 197h1v1h-1zM439 198h1v2h-1zM440 200h1v1h-1zM441 201h1v1h-1zM442 202h1v1h-1zM443 203h1v2h-1zM444 205h1v1h-1zM445 206h1v1h-1zM446 207h1v1h-1zM447 208h1v2h-1zM448 210h1v1h-1zM449 211h1v1h-1zM450 212h1v1h-1zM451 213h1v2h-1zM452 215h1v1h-1zM453 216h1v1h-1zM454 217h1v1h-1zM455 218h1v2h-1zM456 220h1v1h-1zM457 221h1v1h-1zM458 222h1v1h-1zM459 223h1v2h-1zM460 225h1v1h-1zM461 226h1v1h-1zM462 227h1v1h-1zM463 228h1v1h-1zM464 229h2v1h-2zM466 230h1v1h-1zM467 231h1v1h-1zM468 232h1v1h-1zM469 233h5v1h-5zM474 234h5v1h-5zM479 235h3v1h-3zM482 236h2v1h-2zM484 237h2v1h-2zM996 237h3v1h-3zM486 238h2v1h-2zM992 238h4v1h-4zM999 238h3v1h-3zM488 239h1v1h-1zM978 239h14v1h-14zM1002 239h2v1h-2zM489 240h1v1h-1zM972 240h6v1h-6zM1004 240h2v1h-2zM490 241h2v1h-2zM970 241h2v1h-2zM1006 241h2v1h-2zM492 242h1v1h-1zM967 242h3v1h-3zM1008 242h2v1h-2zM493 243h1v1h-1zM964 243h3v1h-3zM1010 243h1v1h-1zM494 244h1v1h-1zM960 244h4v1h-4zM1011 244h2v1h-2zM495 245h1v1h-1zM954 245h6v1h-6zM1013 245h1v1h-1zM496 246h1v1h-1zM949 246h5v1h-5zM1014 246h1v1h-1zM497 247h1v1h-1zM947 247h2v1h-2zM1015 247h1v1h-1zM498 248h1v1h-1zM945 248h2v1h-2zM1016 248h1v1h-1zM499 249h1v1h-1zM943 249h2v1h-2zM1017 249h1v2h-1zM500 250h1v1h-1zM940 250h3v1h-3zM501 251h1v1h-1zM938 251h2v1h-2zM1018 251h1v1h-1zM502 252h1v1h-1zM935 252h3v1h-3zM1019 252h1v1h-1zM503 253h1v1h-1zM922 253h13v1h-13zM1020 253h1v1h-1zM504 254h1v1h-1zM914 254h8v1h-8zM1021 254h1v1h-1zM505 255h1v2h-1zM908 255h6v1h-6zM1022 255h1v1h-1zM876 256h4v1h-4zM906 256h2v1h-2zM1023 256h1v2h-1zM506 257h1v1h-1zM874 257h2v1h-2zM880 257h4v1h-4zM903 257h3v1h-3zM507 258h1v1h-1zM871 258h3v1h-3zM884 258h19v1h-19zM1024 258h1v1h-1zM508 259h1v1h-1zM869 259h2v1h-2zM1025 259h1v1h-1zM509 260h1v1h-1zM867 260h2v1h-2zM1026 260h1v1h-1zM510 261h1v1h-1zM865 261h2v1h-2zM1027 261h1v2h-1zM511 262h1v2h-1zM863 262h2v1h-2zM861 263h2v1h-2zM1028 263h1v1h-1zM512 264h1v1h-1zM860 264h1v1h-1zM1029 264h1v1h-1zM513 265h1v1h-1zM859 265h1v1h-1zM1030 265h1v2h-1zM514 266h1v1h-1zM858 266h1v1h-1zM515 267h1v2h-1zM856 267h2v1h-2zM1031 267h1v2h-1zM855 268h1v1h-1zM516 269h1v1h-1zM854 269h1v1h-1zM1032 269h1v1h-1zM517 270h1v1h-1zM853 270h1v1h-1zM1033 270h1v2h-1zM518 271h1v1h-1zM852 271h1v1h-1zM519 272h1v1h-1zM851 272h1v1h-1zM1034 272h1v1h-1zM520 273h1v1h-1zM850 273h1v1h-1zM1035 273h1v2h-1zM521 274h1v2h-1zM849 274h1v2h-1zM1036 275h1v2h-1zM522 276h1v1h-1zM848 276h1v1h-1zM523 277h1v1h-1zM847 277h1v1h-1zM1037 277h1v1h-1zM524 278h1v1h-1zM846 278h1v1h-1zM1038 278h1v2h-1zM525 279h1v1h-1zM845 279h1v1h-1zM526 280h2v1h-2zM844 280h1v2h-1zM1039 280h1v2h-1zM528 281h1v1h-1zM529 282h1v1h-1zM843 282h1v1h-1zM1040 282h1v2h-1zM530 283h2v1h-2zM842 283h1v1h-1zM532 284h1v1h-1zM841 284h1v2h-1zM1041 284h1v1h-1zM533 285h1v1h-1zM1042 285h1v2h-1zM534 286h1v1h-1zM840 286h1v1h-1zM535 287h1v1h-1zM839 287h1v1h-1zM1043 287h1v2h-1zM536 288h2v1h-2zM838 288h1v2h-1zM538 289h1v1h-1zM692 289h14v1h-14zM1044 289h1v2h-1zM539 290h1v1h-1zM688 290h4v1h-4zM706 290h5v1h-5zM837 290h1v1h-1zM540 291h1v1h-1zM684 291h4v1h-4zM711 291h3v1h-3zM836 291h1v1h-1zM1045 291h1v1h-1zM541 292h1v1h-1zM682 292h2v1h-2zM714 292h2v1h-2zM835 292h1v1h-1zM1046 292h1v2h-1zM542 293h2v1h-2zM679 293h3v1h-3zM716 293h3v1h-3zM834 293h1v1h-1zM544 294h1v1h-1zM677 294h2v1h-2zM719 294h3v1h-3zM833 294h1v2h-1zM1047 294h1v2h-1zM545 295h1v1h-1zM676 295h1v1h-1zM722 295h2v1h-2zM546 296h2v1h-2zM674 296h2v1h-2zM724 296h2v1h-2zM832 296h1v1h-1zM1048 296h1v1h-1zM548 297h1v1h-1zM673 297h1v1h-1zM726 297h2v1h-2zM831 297h1v1h-1zM1049 297h1v2h-1zM549 298h1v1h-1zM672 298h1v1h-1zM728 298h2v1h-2zM830 298h1v1h-1zM550 299h1v1h-1zM670 299h2v1h-2zM730 299h1v1h-1zM829 299h1v1h-1zM1050 299h1v1h-1zM551 300h1v1h-1zM669 300h1v1h-1zM731 300h2v1h-2zM828 300h1v1h-1zM1051 300h1v2h-1zM552 301h1v1h-1zM668 301h1v1h-1zM733 301h2v1h-2zM827 301h1v1h-1zM553 302h1v1h-1zM667 302h1v1h-1zM735 302h3v1h-3zM826 302h1v1h-1zM1052 302h1v2h-1zM554 303h1v1h-1zM666 303h1v1h-1zM738 303h2v1h-2zM824 303h2v1h-2zM555 304h1v1h-1zM664 304h2v1h-2zM740 304h2v1h-2zM823 304h1v1h-1zM1053 304h1v2h-1zM556 305h1v1h-1zM663 305h1v1h-1zM742 305h1v1h-1zM822 305h1v1h-1zM557 306h1v1h-1zM662 306h1v1h-1zM743 306h1v1h-1zM821 306h1v1h-1zM1054 306h1v2h-1zM558 307h2v1h-2zM661 307h1v1h-1zM744 307h2v1h-2zM820 307h1v1h-1zM560 308h1v1h-1zM660 308h1v1h-1zM746 308h1v1h-1zM819 308h1v1h-1zM1055 308h1v2h-1zM561 309h1v1h-1zM659 309h1v1h-1zM747 309h1v1h-1zM818 309h1v1h-1zM562 310h2v1h-2zM658 310h1v1h-1zM748 310h1v1h-1zM817 310h1v1h-1zM1056 310h1v2h-1zM564 311h1v1h-1zM657 311h1v1h-1zM749 311h2v1h-2zM816 311h1v1h-1zM565 312h1v1h-1zM656 312h1v1h-1zM751 312h2v1h-2zM815 312h1v1h-1zM1057 312h1v3h-1zM566 313h2v1h-2zM655 313h1v1h-1zM753 313h2v1h-2zM814 313h1v1h-1zM568 314h2v1h-2zM654 314h1v1h-1zM755 314h2v1h-2zM813 314h1v1h-1zM570 315h1v1h-1zM652 315h2v1h-2zM757 315h2v1h-2zM812 315h1v1h-1zM1058 315h1v2h-1zM571 316h2v1h-2zM650 316h2v1h-2zM759 316h3v1h-3zM810 316h2v1h-2zM573 317h1v1h-1zM647 317h3v1h-3zM762 317h2v1h-2zM809 317h1v1h-1zM1059 317h1v2h-1zM574 318h2v1h-2zM645 318h2v1h-2zM764 318h4v1h-4zM808 318h1v1h-1zM576 319h1v1h-1zM644 319h1v1h-1zM768 319h4v1h-4zM806 319h2v1h-2zM1060 319h1v2h-1zM577 320h1v1h-1zM643 320h1v1h-1zM772 320h4v1h-4zM804 320h2v1h-2zM578 321h2v1h-2zM642 321h1v1h-1zM776 321h4v1h-4zM802 321h2v1h-2zM1061 321h1v3h-1zM580 322h1v1h-1zM640 322h2v1h-2zM780 322h4v1h-4zM799 322h3v1h-3zM581 323h1v1h-1zM639 323h1v1h-1zM784 323h4v1h-4zM794 323h5v1h-5zM582 324h2v1h-2zM638 324h1v1h-1zM788 324h6v1h-6zM1062 324h1v2h-1zM584 325h2v1h-2zM637 325h1v1h-1zM586 326h1v1h-1zM636 326h1v1h-1zM1063 326h1v2h-1zM587 327h2v1h-2zM634 327h2v1h-2zM589 328h2v1h-2zM633 328h1v1h-1zM1064 328h1v2h-1zM591 329h3v1h-3zM632 329h1v1h-1zM594 330h2v1h-2zM630 330h2v1h-2zM1065 330h1v3h-1zM596 331h6v1h-6zM626 331h4v1h-4zM602 332h6v1h-6zM620 332h6v1h-6zM608 333h4v1h-4zM616 333h4v1h-4zM1066 333h1v2h-1zM612 334h4v1h-4zM1067 335h1v2h-1zM1068 337h1v2h-1zM1069 339h1v3h-1zM1070 342h1v2h-1zM1071 344h1v2h-1zM1072 346h1v3h-1zM1073 349h1v2h-1zM1074 351h1v3h-1zM1075 354h1v2h-1zM1076 356h1v2h-1zM1077 358h1v3h-1zM1078 361h1v2h-1zM1079 363h1v3h-1zM1080 366h1v3h-1zM1081 369h1v2h-1zM1082 371h1v3h-1zM1083 374h1v3h-1zM1084 377h1v2h-1zM1085 379h1v2h-1zM1086 381h1v2h-1zM1087 383h1v2h-1zM1088 385h1v2h-1zM1089 387h1v2h-1zM1090 389h1v2h-1zM1091 391h1v2h-1zM1092 393h1v2h-1zM1093 395h1v1h-1zM1094 396h1v2h-1zM1095 398h1v1h-1zM1096 399h1v1h-1zM1097 400h1v2h-1zM1098 402h1v1h-1zM1099 403h1v1h-1zM1100 404h1v2h-1zM1101 406h1v1h-1zM1102 407h1v1h-1zM1103 408h1v2h-1zM1104 410h1v1h-1zM1105 411h1v1h-1zM1106 412h1v1h-1zM1107 413h1v2h-1zM1108 415h1v1h-1zM1109 416h1v1h-1zM1110 417h1v1h-1zM1111 418h1v1h-1zM1112 419h1v1h-1zM1113 420h1v2h-1zM1114 422h1v1h-1zM1115 423h1v1h-1zM1116 424h1v1h-1zM1117 425h1v1h-1z" fill="#ff0000"/>
<path d="M325 92h2v1h-2zM340 92h2v1h-2zM324 93h1v1h-1zM327 93h3v1h-3zM338 93h2v1h-2zM342 93h2v1h-2zM322 94h2v1h-2zM330 94h2v1h-2zM335 94h3v1h-3zM344 94h2v1h-2zM321 95h1v1h-1zM332 95h3v1h-3zM346 95h1v1h-1zM320 96h1v1h-1zM347 96h2v1h-2zM318 97h2v1h-2zM349 97h1v1h-1zM317 98h1v1h-1zM350 98h1v1h-1zM316 99h1v1h-1zM351 99h1v2h-1zM314 100h2v1h-2zM313 101h1v1h-1zM352 101h1v1h-1zM312 102h1v1h-1zM353 102h1v1h-1zM310 103h2v1h-2zM354 103h1v1h-1zM309 104h1v1h-1zM355 104h1v2h-1zM308 105h1v1h-1zM307 106h1v2h-1zM356 106h1v1h-1zM357 107h1v2h-1zM306 108h1v1h-1zM305 109h1v1h-1zM358 109h1v2h-1zM304 110h1v1h-1zM303 111h1v2h-1zM359 111h1v2h-1zM302 113h1v1h-1zM360 113h1v2h-1zM301 114h1v1h-1zM5 115h2v1h-2zM300 115h1v1h-1zM361 115h1v3h-1zM7 116h2v1h-2zM299 116h1v2h-1zM9 117h2v1h-2zM11 118h2v1h-2zM298 118h1v1h-1zM362 118h1v2h-1zM13 119h1v1h-1zM297 119h1v1h-1zM14 120h1v1h-1zM296 120h1v1h-1zM363 120h1v2h-1zM15 121h1v1h-1zM295 121h1v2h-1zM16 122h1v1h-1zM364 122h1v2h-1zM17 123h1v1h-1zM294 123h1v1h-1zM18 124h1v1h-1zM293 124h1v1h-1zM365 124h1v3h-1zM19 125h1v1h-1zM292 125h1v1h-1zM20 126h1v1h-1zM291 126h1v1h-1zM21 127h1v1h-1zM290 127h1v1h-1zM366 127h1v3h-1zM22 128h1v2h-1zM289 128h1v1h-1zM288 129h1v1h-1zM23 130h1v2h-1zM287 130h1v1h-1zM367 130h1v2h-1zM286 131h1v1h-1zM24 132h1v1h-1zM277 132h9v1h-9zM368 132h1v3h-1zM25 133h1v2h-1zM276 133h1v2h-1zM26 135h1v1h-1zM275 135h1v2h-1zM369 135h1v3h-1zM27 136h1v2h-1zM274 137h1v2h-1zM28 138h1v2h-1zM370 138h1v3h-1zM273 139h1v2h-1zM29 140h1v2h-1zM272 141h1v2h-1zM371 141h1v2h-1zM30 142h1v3h-1zM271 143h1v2h-1zM372 143h1v3h-1zM31 145h1v3h-1zM270 145h1v2h-1zM173 146h5v1h-5zM373 146h1v3h-1zM171 147h2v1h-2zM178 147h4v1h-4zM212 147h2v1h-2zM268 147h2v1h-2zM32 148h1v3h-1zM170 148h1v1h-1zM182 148h1v1h-1zM210 148h2v1h-2zM214 148h1v1h-1zM266 148h2v1h-2zM168 149h2v1h-2zM183 149h1v1h-1zM207 149h3v1h-3zM215 149h1v1h-1zM263 149h3v1h-3zM374 149h1v2h-1zM166 150h2v1h-2zM184 150h2v1h-2zM205 150h2v1h-2zM216 150h1v1h-1zM250 150h13v1h-13zM33 151h1v2h-1zM165 151h1v1h-1zM186 151h1v1h-1zM203 151h2v1h-2zM217 151h1v1h-1zM244 151h6v1h-6zM375 151h1v2h-1zM163 152h2v1h-2zM187 152h1v1h-1zM202 152h1v1h-1zM218 152h1v1h-1zM242 152h2v1h-2zM34 153h1v3h-1zM162 153h1v1h-1zM188 153h1v1h-1zM200 153h2v1h-2zM219 153h1v1h-1zM239 153h3v1h-3zM376 153h1v3h-1zM160 154h2v1h-2zM189 154h5v1h-5zM198 154h2v1h-2zM220 154h1v1h-1zM236 154h3v1h-3zM158 155h2v1h-2zM194 155h4v1h-4zM221 155h3v1h-3zM234 155h2v1h-2zM35 156h1v3h-1zM148 156h10v1h-10zM224 156h4v1h-4zM231 156h3v1h-3zM377 156h1v2h-1zM144 157h4v1h-4zM228 157h3v1h-3zM140 158h4v1h-4zM378 158h1v3h-1zM36 159h1v2h-1zM138 159h2v1h-2zM135 160h3v1h-3zM37 161h1v3h-1zM133 161h2v1h-2zM379 161h1v2h-1zM132 162h1v1h-1zM131 163h1v1h-1zM380 163h1v2h-1zM38 164h1v2h-1zM130 164h1v1h-1zM129 165h1v1h-1zM381 165h1v2h-1zM39 166h1v2h-1zM128 166h1v1h-1zM127 167h1v1h-1zM382 167h1v2h-1zM40 168h1v2h-1zM126 168h1v1h-1zM124 169h2v1h-2zM383 169h1v1h-1zM41 170h1v2h-1zM120 170h4v1h-4zM384 170h1v2h-1zM117 171h3v1h-3zM42 172h1v2h-1zM116 172h1v1h-1zM385 172h1v1h-1zM115 173h1v1h-1zM386 173h1v2h-1zM43 174h1v2h-1zM114 174h1v1h-1zM113 175h1v2h-1zM387 175h1v1h-1zM44 176h1v2h-1zM388 176h1v2h-1zM112 177h1v1h-1zM45 178h1v2h-1zM111 178h1v1h-1zM389 178h1v1h-1zM110 179h1v1h-1zM390 179h1v2h-1zM46 180h1v1h-1zM108 180h2v1h-2zM47 181h1v1h-1zM106 181h2v1h-2zM391 181h1v2h-1zM48 182h2v1h-2zM103 182h3v1h-3zM50 183h1v1h-1zM101 183h2v1h-2zM392 183h1v2h-1zM51 184h1v1h-1zM100 184h1v2h-1zM52 185h1v1h-1zM393 185h1v2h-1zM53 186h2v1h-2zM99 186h1v1h-1zM55 187h2v1h-2zM98 187h1v2h-1zM394 187h1v2h-1zM57 188h2v1h-2zM59 189h2v1h-2zM97 189h1v1h-1zM395 189h1v2h-1zM61 190h2v1h-2zM96 190h1v2h-1zM63 191h2v1h-2zM396 191h1v2h-1zM65 192h2v1h-2zM95 192h1v1h-1zM67 193h2v1h-2zM94 193h1v2h-1zM397 193h1v1h-1zM69 194h2v1h-2zM398 194h1v2h-1zM71 195h3v1h-3zM92 195h2v1h-2zM74 196h2v1h-2zM90 196h2v1h-2zM399 196h1v1h-1zM76 197h6v1h-6zM87 197h3v1h-3zM400 197h1v1h-1zM82 198h5v1h-5zM401 198h1v2h-1zM402 200h1v1h-1zM403 201h1v1h-1zM404 202h1v2h-1zM405 204h1v1h-1zM406 205h1v2h-1zM407 207h1v1h-1zM408 208h1v2h-1zM409 210h1v1h-1zM410 211h1v2h-1zM411 213h1v1h-1zM972 213h2v1h-2zM412 214h1v2h-1zM968 214h4v1h-4zM974 214h2v1h-2zM964 215h4v1h-4zM976 215h1v1h-1zM413 216h3v1h-3zM962 216h2v1h-2zM977 216h1v1h-1zM416 217h4v1h-4zM959 217h3v1h-3zM978 217h2v1h-2zM420 218h10v1h-10zM957 218h2v1h-2zM980 218h1v1h-1zM430 219h1v1h-1zM956 219h1v1h-1zM981 219h1v1h-1zM431 220h1v2h-1zM955 220h1v1h-1zM982 220h2v1h-2zM954 221h1v1h-1zM984 221h2v1h-2zM432 222h1v1h-1zM953 222h1v2h-1zM986 222h1v1h-1zM433 223h1v1h-1zM987 223h2v1h-2zM434 224h1v1h-1zM952 224h1v1h-1zM989 224h1v1h-1zM435 225h1v2h-1zM951 225h1v1h-1zM990 225h1v1h-1zM950 226h1v1h-1zM991 226h1v1h-1zM436 227h1v1h-1zM949 227h1v1h-1zM992 227h1v1h-1zM437 228h1v1h-1zM948 228h1v2h-1zM993 228h1v1h-1zM438 229h2v1h-2zM994 229h1v1h-1zM440 230h1v1h-1zM947 230h1v2h-1zM995 230h1v1h-1zM441 231h1v1h-1zM996 231h1v1h-1zM442 232h2v1h-2zM946 232h1v2h-1zM997 232h1v2h-1zM444 233h1v1h-1zM445 234h1v1h-1zM945 234h1v2h-1zM998 234h1v4h-1zM446 235h2v1h-2zM448 236h1v1h-1zM944 236h1v2h-1zM449 237h1v1h-1zM450 238h2v1h-2zM853 238h2v1h-2zM943 238h1v2h-1zM999 238h1v3h-1zM452 239h1v1h-1zM851 239h2v1h-2zM855 239h2v1h-2zM453 240h1v1h-1zM850 240h1v1h-1zM857 240h2v1h-2zM942 240h1v2h-1zM454 241h1v1h-1zM848 241h2v1h-2zM859 241h2v1h-2zM1000 241h1v3h-1zM455 242h1v1h-1zM846 242h2v1h-2zM861 242h1v1h-1zM941 242h1v1h-1zM456 243h1v1h-1zM845 243h1v1h-1zM862 243h1v1h-1zM940 243h1v1h-1zM457 244h1v1h-1zM844 244h1v1h-1zM863 244h1v1h-1zM939 244h1v2h-1zM1001 244h1v2h-1zM458 245h1v1h-1zM843 245h1v2h-1zM864 245h2v1h-2zM459 246h1v1h-1zM866 246h1v1h-1zM938 246h1v1h-1zM1002 246h1v2h-1zM460 247h1v1h-1zM842 247h1v1h-1zM867 247h1v1h-1zM937 247h1v1h-1zM461 248h2v1h-2zM841 248h1v1h-1zM868 248h1v1h-1zM936 248h1v1h-1zM1003 248h1v2h-1zM463 249h3v1h-3zM840 249h1v1h-1zM869 249h1v1h-1zM935 249h1v2h-1zM466 250h2v1h-2zM839 250h1v2h-1zM870 250h2v1h-2zM1004 250h1v2h-1zM468 251h10v1h-10zM872 251h1v1h-1zM934 251h1v1h-1zM478 252h2v1h-2zM838 252h1v1h-1zM873 252h1v1h-1zM933 252h1v1h-1zM1005 252h1v3h-1zM480 253h2v1h-2zM837 253h1v1h-1zM874 253h2v1h-2zM932 253h1v1h-1zM482 254h1v1h-1zM835 254h2v1h-2zM876 254h1v1h-1zM931 254h1v1h-1zM483 255h2v1h-2zM833 255h2v1h-2zM877 255h2v1h-2zM930 255h1v1h-1zM1006 255h1v2h-1zM485 256h2v1h-2zM831 256h2v1h-2zM879 256h2v1h-2zM929 256h1v1h-1zM487 257h2v1h-2zM828 257h3v1h-3zM881 257h2v1h-2zM928 257h1v1h-1zM1007 257h1v2h-1zM489 258h2v1h-2zM824 258h4v1h-4zM883 258h2v1h-2zM927 258h1v1h-1zM491 259h2v1h-2zM821 259h3v1h-3zM885 259h1v1h-1zM926 259h1v1h-1zM1008 259h1v2h-1zM493 260h1v1h-1zM820 260h1v2h-1zM886 260h2v1h-2zM925 260h1v1h-1zM494 261h1v1h-1zM888 261h2v1h-2zM924 261h1v1h-1zM1009 261h1v2h-1zM495 262h1v1h-1zM819 262h1v2h-1zM890 262h1v1h-1zM923 262h1v1h-1zM496 263h1v1h-1zM891 263h2v1h-2zM922 263h1v1h-1zM1010 263h1v2h-1zM497 264h1v1h-1zM818 264h1v1h-1zM893 264h1v1h-1zM921 264h1v1h-1zM498 265h1v1h-1zM684 265h6v1h-6zM817 265h1v2h-1zM894 265h1v1h-1zM920 265h1v1h-1zM1011 265h1v2h-1zM499 266h1v1h-1zM682 266h2v1h-2zM690 266h4v1h-4zM895 266h1v1h-1zM919 266h1v1h-1zM500 267h1v1h-1zM679 267h3v1h-3zM694 267h1v1h-1zM816 267h1v1h-1zM896 267h1v1h-1zM918 267h1v1h-1zM1012 267h1v2h-1zM501 268h1v1h-1zM677 268h2v1h-2zM695 268h1v1h-1zM815 268h1v2h-1zM897 268h1v1h-1zM917 268h1v1h-1zM502 269h1v1h-1zM676 269h1v1h-1zM696 269h1v1h-1zM898 269h1v1h-1zM915 269h2v1h-2zM1013 269h1v3h-1zM503 270h1v2h-1zM675 270h1v1h-1zM697 270h1v1h-1zM814 270h1v2h-1zM899 270h1v1h-1zM913 270h2v1h-2zM674 271h1v1h-1zM698 271h1v1h-1zM900 271h1v1h-1zM911 271h2v1h-2zM504 272h1v1h-1zM672 272h2v1h-2zM699 272h1v1h-1zM813 272h1v1h-1zM901 272h10v1h-10zM1014 272h1v2h-1zM505 273h1v1h-1zM671 273h1v1h-1zM700 273h1v1h-1zM812 273h1v2h-1zM506 274h1v1h-1zM670 274h1v1h-1zM701 274h1v1h-1zM1015 274h1v3h-1zM507 275h1v2h-1zM669 275h1v1h-1zM702 275h1v1h-1zM811 275h1v2h-1zM668 276h1v2h-1zM703 276h1v1h-1zM508 277h1v1h-1zM704 277h1v1h-1zM810 277h1v1h-1zM1016 277h1v2h-1zM509 278h1v1h-1zM667 278h1v2h-1zM705 278h1v1h-1zM809 278h1v2h-1zM510 279h1v2h-1zM706 279h1v1h-1zM1017 279h1v3h-1zM666 280h1v1h-1zM707 280h1v1h-1zM808 280h1v1h-1zM511 281h1v2h-1zM665 281h1v2h-1zM708 281h1v1h-1zM807 281h1v2h-1zM709 282h1v2h-1zM1018 282h1v2h-1zM512 283h1v2h-1zM664 283h1v1h-1zM806 283h1v2h-1zM663 284h1v2h-1zM710 284h1v2h-1zM1019 284h1v3h-1zM513 285h1v2h-1zM805 285h1v2h-1zM662 286h1v2h-1zM711 286h1v2h-1zM514 287h1v2h-1zM804 287h1v2h-1zM1020 287h1v2h-1zM661 288h1v1h-1zM712 288h1v2h-1zM515 289h1v2h-1zM660 289h1v1h-1zM803 289h1v2h-1zM1021 289h1v3h-1zM659 290h1v1h-1zM713 290h1v3h-1zM516 291h1v2h-1zM658 291h1v1h-1zM802 291h1v2h-1zM657 292h1v2h-1zM1022 292h1v2h-1zM517 293h1v1h-1zM714 293h1v2h-1zM801 293h1v2h-1zM518 294h1v2h-1zM656 294h1v1h-1zM1023 294h1v3h-1zM655 295h1v1h-1zM715 295h1v2h-1zM800 295h1v2h-1zM519 296h1v2h-1zM654 296h1v1h-1zM653 297h1v1h-1zM716 297h1v2h-1zM799 297h1v2h-1zM1024 297h1v3h-1zM520 298h1v2h-1zM652 298h1v1h-1zM650 299h2v1h-2zM717 299h1v3h-1zM798 299h1v2h-1zM521 300h1v1h-1zM649 300h1v1h-1zM1025 300h1v2h-1zM522 301h1v2h-1zM648 301h1v1h-1zM797 301h1v2h-1zM646 302h2v1h-2zM718 302h1v2h-1zM1026 302h1v3h-1zM523 303h1v2h-1zM645 303h1v1h-1zM796 303h1v2h-1zM644 304h1v2h-1zM719 304h1v2h-1zM524 305h1v2h-1zM795 305h1v2h-1zM1027 305h1v3h-1zM643 306h1v1h-1zM720 306h1v2h-1zM525 307h1v1h-1zM642 307h1v1h-1zM794 307h1v2h-1zM526 308h1v2h-1zM641 308h1v2h-1zM721 308h1v3h-1zM1028 308h1v2h-1zM793 309h1v1h-1zM527 310h1v1h-1zM640 310h1v1h-1zM792 310h1v2h-1zM1029 310h1v3h-1zM528 311h1v2h-1zM639 311h1v1h-1zM722 311h1v2h-1zM638 312h1v2h-1zM791 312h1v2h-1zM529 313h1v1h-1zM723 313h1v2h-1zM1030 313h1v2h-1zM530 314h1v2h-1zM637 314h1v1h-1zM790 314h1v2h-1zM635 315h2v1h-2zM724 315h1v2h-1zM1031 315h1v3h-1zM531 316h1v1h-1zM633 316h2v1h-2zM789 316h1v1h-1zM532 317h1v2h-1zM631 317h2v1h-2zM725 317h1v3h-1zM788 317h1v2h-1zM621 318h10v1h-10zM1032 318h1v2h-1zM533 319h1v1h-1zM620 319h1v1h-1zM787 319h1v2h-1zM534 320h1v1h-1zM618 320h2v1h-2zM726 320h1v2h-1zM1033 320h1v3h-1zM535 321h1v1h-1zM617 321h1v1h-1zM786 321h1v2h-1zM536 322h1v1h-1zM616 322h1v1h-1zM727 322h1v2h-1zM537 323h1v2h-1zM614 323h2v1h-2zM785 323h1v1h-1zM1034 323h1v2h-1zM613 324h1v1h-1zM728 324h1v2h-1zM784 324h1v2h-1zM538 325h1v1h-1zM611 325h2v1h-2zM1035 325h1v3h-1zM539 326h1v1h-1zM609 326h2v1h-2zM729 326h1v2h-1zM783 326h1v2h-1zM540 327h1v1h-1zM607 327h2v1h-2zM541 328h1v1h-1zM605 328h2v1h-2zM730 328h1v2h-1zM782 328h1v2h-1zM1036 328h1v2h-1zM542 329h1v1h-1zM603 329h2v1h-2zM543 330h1v1h-1zM601 330h2v1h-2zM731 330h1v2h-1zM781 330h1v1h-1zM1037 330h1v3h-1zM544 331h1v1h-1zM599 331h2v1h-2zM780 331h1v2h-1zM545 332h1v2h-1zM594 332h5v1h-5zM732 332h1v2h-1zM588 333h6v1h-6zM779 333h1v2h-1zM1038 333h1v3h-1zM546 334h1v1h-1zM586 334h2v1h-2zM733 334h1v2h-1zM547 335h1v1h-1zM583 335h3v1h-3zM778 335h1v1h-1zM548 336h1v1h-1zM581 336h2v1h-2zM734 336h1v1h-1zM777 336h1v2h-1zM1039 336h1v3h-1zM549 337h1v1h-1zM580 337h1v1h-1zM735 337h1v2h-1zM550 338h1v1h-1zM579 338h1v1h-1zM776 338h1v1h-1zM551 339h1v1h-1zM578 339h1v1h-1zM736 339h1v1h-1zM775 339h1v2h-1zM1040 339h1v3h-1zM552 340h2v1h-2zM577 340h1v1h-1zM737 340h1v1h-1zM554 341h1v1h-1zM576 341h1v1h-1zM738 341h1v1h-1zM774 341h1v2h-1zM555 342h1v1h-1zM575 342h1v1h-1zM739 342h1v2h-1zM1041 342h1v2h-1zM556 343h1v1h-1zM574 343h1v1h-1zM773 343h1v1h-1zM557 344h2v1h-2zM573 344h1v1h-1zM740 344h1v1h-1zM772 344h1v1h-1zM1042 344h1v3h-1zM559 345h2v1h-2zM571 345h2v1h-2zM741 345h1v1h-1zM771 345h1v2h-1zM561 346h2v1h-2zM569 346h2v1h-2zM742 346h1v1h-1zM563 347h2v1h-2zM567 347h2v1h-2zM743 347h1v1h-1zM770 347h1v1h-1zM1043 347h1v3h-1zM565 348h2v1h-2zM744 348h1v1h-1zM769 348h1v1h-1zM745 349h1v2h-1zM768 349h1v1h-1zM767 350h1v2h-1zM1044 350h1v3h-1zM746 351h1v1h-1zM747 352h1v1h-1zM766 352h1v1h-1zM748 353h1v1h-1zM764 353h2v1h-2zM1045 353h1v3h-1zM749 354h5v1h-5zM760 354h4v1h-4zM754 355h6v1h-6zM1046 356h1v3h-1zM1047 359h1v2h-1zM1048 361h1v3h-1zM1049 364h1v3h-1zM1050 367h1v3h-1zM1051 370h1v2h-1zM1052 372h1v3h-1zM1053 375h1v3h-1zM1054 378h1v2h-1zM1055 380h1v2h-1zM1056 382h1v2h-1zM1057 384h1v2h-1zM1058 386h1v2h-1zM1059 388h1v2h-1zM1060 390h1v2h-1zM1061 392h1v3h-1zM1062 395h1v2h-1zM1063 397h1v2h-1zM1064 399h1v3h-1zM1065 402h1v2h-1zM1066 404h1v3h-1zM1067 407h1v2h-1zM1068 409h1v2h-1zM1069 411h1v3h-1zM1070 414h1v2h-1zM1071 416h1v2h-1zM1072 418h1v2h-1zM1073 420h1v3h-1zM1074 423h1v2h-1zM1075 425h1v2h-1zM1076 427h1v2h-1zM1077 429h1v3h-1zM1078 432h1v2h-1zM1079 434h1v2h-1zM1080 436h1v2h-1zM1081 438h1v2h-1zM1082 440h1v2h-1zM1083 442h1v2h-1zM1084 444h1v2h-1zM1085 446h1v2h-1zM1086 447h1v1h-1zM1087 448h2v1h-2zM1089 449h2v1h-2zM1091 450h2v1h-2zM1093 451h3v1h-3zM1096 452h4v1h-4zM1100 453h4v1h-4zM1104 454h4v1h-4zM1108 455h4v1h-4zM1112 456h4v1h-4zM1116 457h2v1h-2z" fill="#0000cd"/>
<rect x="5" y="597" width="1" height="7" fill="#c0c0c0"/>
<rect x="13" y="597" width="1" height="11" fill="#c0c0c0"/>
<rect x="21" y="597" width="1" height="13" fill="#c0c0c0"/>
<rect x="29" y="597" width="1" height="15" fill="#c0c0c0"/>
<rect x="37" y="597" width="1" height="22" fill="#c0c0c0"/>
<rect x="45" y="597" width="1" height="28" fill="#c0c0c0"/>
<rect x="53" y="597" width="1" height="29" fill="#c0c0c0"/>
<rect x="61" y="597" width="1" height="31" fill="#c0c0c0"/>
<rect x="69" y="597" width="1" height="30" fill="#c0c0c0"/>
<rect x="77" y="597" width="1" height="29" fill="#c0c0c0"/>
<rect x="85" y="597" width="1" height="26" fill="#c0c0c0"/>
<rect x="93" y="597" width="1" height="24" fill="#c0c0c0"/>
<rect x="101" y="597" width="1" height="21" fill="#c0c0c0"/>
<rect x="109" y="597" width="1" height="19" fill="#c0c0c0"/>
<rect x="117" y="597" width="1" height="16" fill="#c0c0c0"/>
<rect x="125" y="597" width="1" height="13" fill="#c0c0c0"/>
<rect x="133" y="597" width="1" height="8" fill="#c0c0c0"/>
<rect x="141" y="597" width="1" height="6" fill="#c0c0c0"/>
<rect x="149" y="597" width="1" height="7" fill="#c0c0c0"/>
<rect x="157" y="597" width="1" height="7" fill="#c0c0c0"/>
<rect x="165" y="597" width="1" height="4" fill="#c0c0c0"/>
<rect x="173" y="597" width="1" height="1" fill="#c0c0c0"/>
<rect x="181" y="597" width="1" height="1" fill="#c0c0c0"/>
<rect x="189" y="597" width="1" height="3" fill="#c0c0c0"/>
<rect x="197" y="597" width="1" height="2" fill="#c0c0c0"/>
<rect x="205" y="597" width="1" height="1" fill="#c0c0c0"/>
<rect x="213" y="597" width="1" height="1" fill="#c0c0c0"/>
<rect x="221" y="597" width="1" height="2" fill="#c0c0c0"/>
<rect x="229" y="597" width="1" height="1" fill="#c0c0c0"/>
<rect x="237" y="597" width="1" height="1" fill="#c0c0c0"/>
<rect x="245" y="596" width="1" height="2" fill="#c0c0c0"/>
<rect x="253" y="596" width="1" height="2" fill="#c0c0c0"/>
<rect x="261" y="595" width="1" height="3" fill="#c0c0c0"/>
<rect x="269" y="593" width="1" height="5" fill="#c0c0c0"/>
<rect x="277" y="588" width="1" height="10" fill="#c0c0c0"/>
<rect x="285" y="588" width="1" height="10" fill="#c0c0c0"/>
<rect x="293" y="584" width="1" height="14" fill="#c0c0c0"/>
<rect x="301" y="581" width="1" height="17" fill="#c0c0c0"/>
<rect x="309" y="578" width="1" height="20" fill="#c0c0c0"/>
<rect x="317" y="578" width="1" height="20" fill="#c0c0c0"/>
<rect x="325" y="576" width="1" height="22" fill="#c0c0c0"/>
<rect x="333" y="578" width="1" height="20" fill="#c0c0c0"/>
<rect x="341" y="579" width="1" height="19" fill="#c0c0c0"/>
<rect x="349" y="582" width="1" height="16" fill="#c0c0c0"/>
<rect x="357" y="588" width="1" height="10" fill="#c0c0c0"/>
<rect x="365" y="597" width="1" height="1" fill="#c0c0c0"/>
<rect x="373" y="597" width="1" height="11" fill="#c0c0c0"/>
<rect x="381" y="597" width="1" height="16" fill="#c0c0c0"/>
<rect x="389" y="597" width="1" height="19" fill="#c0c0c0"/>
<rect x="397" y="597" width="1" height="20" fill="#c0c0c0"/>
<rect x="405" y="597" width="1" height="22" fill="#c0c0c0"/>
<rect x="413" y="597" width="1" height="26" fill="#c0c0c0"/>
<rect x="421" y="597" width="1" height="30" fill="#c0c0c0"/>
<rect x="429" y="597" width="1" height="32" fill="#c0c0c0"/>
<rect x="437" y="597" width="1" height="36" fill="#c0c0c0"/>
<rect x="445" y="597" width="1" height="37" fill="#c0c0c0"/>
<rect x="453" y="597" width="1" height="37" fill="#c0c0c0"/>
<rect x="461" y="597" width="1" height="37" fill="#c0c0c0"/>
<rect x="469" y="597" width="1" height="37" fill="#c0c0c0"/>
<rect x="477" y="597" width="1" height="36" fill="#c0c0c0"/>
<rect x="485" y="597" width="1" height="35" fill="#c0c0c0"/>
<rect x="493" y="597" width="1" height="39" fill="#c0c0c0"/>
<rect x="501" y="597" width="1" height="42" fill="#c0c0c0"/>
<rect x="509" y="597" width="1" height="45" fill="#c0c0c0"/>
<rect x="517" y="597" width="1" height="49" fill="#c0c0c0"/>
<rect x="525" y="597" width="1" height="55" fill="#c0c0c0"/>
<rect x="533" y="597" width="1" height="55" fill="#c0c0c0"/>
<rect x="541" y="597" width="1" height="53" fill="#c0c0c0"/>
<rect x="549" y="597" width="1" height="53" fill="#c0c0c0"/>
<rect x="557" y="597" width="1" height="55" fill="#c0c0c0"/>
<rect x="565" y="597" width="1" height="53" fill="#c0c0c0"/>
<rect x="573" y="597" width="1" height="48" fill="#c0c0c0"/>
<rect x="581" y="597" width="1" height="44" fill="#c0c0c0"/>
<rect x="589" y="597" width="1" height="41" fill="#c0c0c0"/>
<rect x="597" y="597" width="1" height="37" fill="#c0c0c0"/>
<rect x="605" y="597" width="1" height="35" fill="#c0c0c0"/>
<rect x="613" y="597" width="1" height="34" fill="#c0c0c0"/>
<rect x="621" y="597" width="1" height="29" fill="#c0c0c0"/>
<rect x="629" y="597" width="1" height="27" fill="#c0c0c0"/>
<rect x="637" y="597" width="1" height="20" fill="#c0c0c0"/>
<rect x="645" y="597" width="1" height="13" fill="#c0c0c0"/>
<rect x="653" y="597" width="1" height="10" fill="#c0c0c0"/>
<rect x="661" y="597" width="1" height="6" fill="#c0c0c0"/>
<rect x="669" y="597" width="1" height="1" fill="#c0c0c0"/>
<rect x="677" y="595" width="1" height="3" fill="#c0c0c0"/>
<rect x="685" y="596" width="1" height="2" fill="#c0c0c0"/>
<rect x="693" y="596" width="1" height="2" fill="#c0c0c0"/>
<rect x="701" y="597" width="1" height="1" fill="#c0c0c0"/>
<rect x="709" y="597" width="1" height="3" fill="#c0c0c0"/>
<rect x="717" y="597" width="1" height="13" fill="#c0c0c0"/>
<rect x="725" y="597" width="1" height="17" fill="#c0c0c0"/>
<rect x="733" y="597" width="1" height="23" fill="#c0c0c0"/>
<rect x="741" y="597" width="1" height="24" fill="#c0c0c0"/>
<rect x="749" y="597" width="1" height="25" fill="#c0c0c0"/>
<rect x="757" y="597" width="1" height="22" fill="#c0c0c0"/>
<rect x="765" y="597" width="1" height="18" fill="#c0c0c0"/>
<rect x="773" y="597" width="1" height="13" fill="#c0c0c0"/>
<rect x="781" y="597" width="1" height="8" fill="#c0c0c0"/>
<rect x="789" y="597" width="1" height="3" fill="#c0c0c0"/>
<rect x="797" y="597" width="1" height="1" fill="#c0c0c0"/>
<rect x="805" y="591" width="1" height="7" fill="#c0c0c0"/>
<rect x="813" y="585" width="1" height="13" fill="#c0c0c0"/>
<rect x="821" y="580" width="1" height="18" fill="#c0c0c0"/>
<rect x="829" y="582" width="1" height="16" fill="#c0c0c0"/>
<rect x="837" y="581" width="1" height="17" fill="#c0c0c0"/>
<rect x="845" y="577" width="1" height="21" fill="#c0c0c0"/>
<rect x="853" y="575" width="1" height="23" fill="#c0c0c0"/>
<rect x="861" y="577" width="1" height="21" fill="#c0c0c0"/>
<rect x="869" y="579" width="1" height="19" fill="#c0c0c0"/>
<rect x="877" y="582" width="1" height="16" fill="#c0c0c0"/>
<rect x="885" y="588" width="1" height="10" fill="#c0c0c0"/>
<rect x="893" y="591" width="1" height="7" fill="#c0c0c0"/>
<rect x="901" y="591" width="1" height="7" fill="#c0c0c0"/>
<rect x="909" y="587" width="1" height="11" fill="#c0c0c0"/>
<rect x="917" y="584" width="1" height="14" fill="#c0c0c0"/>
<rect x="925" y="581" width="1" height="17" fill="#c0c0c0"/>
<rect x="933" y="580" width="1" height="18" fill="#c0c0c0"/>
<rect x="941" y="580" width="1" height="18" fill="#c0c0c0"/>
<rect x="949" y="575" width="1" height="23" fill="#c0c0c0"/>
<rect x="957" y="574" width="1" height="24" fill="#c0c0c0"/>
<rect x="965" y="573" width="1" height="25" fill="#c0c0c0"/>
<rect x="973" y="574" width="1" height="24" fill="#c0c0c0"/>
<rect x="981" y="578" width="1" height="20" fill="#c0c0c0"/>
<rect x="989" y="583" width="1" height="15" fill="#c0c0c0"/>
<rect x="997" y="590" width="1" height="8" fill="#c0c0c0"/>
<rect x="1005" y="597" width="1" height="1" fill="#c0c0c0"/>
<rect x="1013" y="597" width="1" height="8" fill="#c0c0c0"/>
<rect x="1021" y="597" width="1" height="14" fill="#c0c0c0"/>
<rect x="1029" y="597" width="1" height="21" fill="#c0c0c0"/>
<rect x="1037" y="597" width="1" height="29" fill="#c0c0c0"/>
<rect x="1045" y="597" width="1" height="39" fill="#c0c0c0"/>
<rect x="1053" y="597" width="1" height="46" fill="#c0c0c0"/>
<rect x="1061" y="597" width="1" height="52" fill="#c0c0c0"/>
<rect x="1069" y="597" width="1" height="59" fill="#c0c0c0"/>
<rect x="1077" y="597" width="1" height="64" fill="#c0c0c0"/>
<rect x="1085" y="597" width="1" height="67" fill="#c0c0c0"/>
<rect x="1093" y="597" width="1" height="64" fill="#c0c0c0"/>
<rect x="1101" y="597" width="1" height="62" fill="#c0c0c0"/>
<rect x="1109" y="597" width="1" height="62" fill="#c0c0c0"/>
<rect x="1117" y="597" width="1" height="61" fill="#c0c0c0"/>
<path d="M978 577h2v1h-2zM983 577h3v1h-3zM989 577h3v1h-3zM972 578h2v1h-2zM977 578h1v1h-1zM995 578h3v1h-3zM1001 578h1v1h-1zM354 579h2v1h-2zM359 579h1v1h-1zM875 579h3v1h-3zM881 579h3v1h-3zM887 579h3v1h-3zM971 579h1v1h-1zM1002 579h2v1h-2zM341 580h3v1h-3zM347 580h3v1h-3zM353 580h1v1h-1zM360 580h2v1h-2zM869 580h3v1h-3zM893 580h3v1h-3zM965 580h3v1h-3zM1007 580h3v1h-3zM335 581h3v1h-3zM365 581h2v1h-2zM864 581h2v1h-2zM899 581h3v1h-3zM905 581h1v1h-1zM959 581h3v1h-3zM330 582h2v1h-2zM367 582h1v1h-1zM863 582h1v1h-1zM906 582h2v1h-2zM911 582h3v1h-3zM953 582h3v1h-3zM1013 582h2v1h-2zM329 583h1v1h-1zM371 583h1v1h-1zM857 583h3v1h-3zM917 583h3v1h-3zM923 583h3v1h-3zM929 583h1v1h-1zM947 583h3v1h-3zM1015 583h1v1h-1zM324 584h2v1h-2zM372 584h2v1h-2zM853 584h1v1h-1zM930 584h2v1h-2zM935 584h3v1h-3zM941 584h3v1h-3zM323 585h1v1h-1zM851 585h2v1h-2zM1019 585h2v1h-2zM317 586h3v1h-3zM377 586h2v1h-2zM1021 586h1v1h-1zM312 587h2v1h-2zM379 587h1v1h-1zM847 587h1v1h-1zM311 588h1v1h-1zM845 588h2v1h-2zM305 589h3v1h-3zM383 589h1v1h-1zM1025 589h1v1h-1zM300 590h2v1h-2zM384 590h2v1h-2zM841 590h1v1h-1zM1026 590h2v1h-2zM299 591h1v1h-1zM839 591h2v1h-2zM293 592h3v1h-3zM288 593h2v1h-2zM389 593h2v1h-2zM835 593h1v1h-1zM1031 593h1v1h-1zM282 594h2v1h-2zM287 594h1v1h-1zM391 594h1v1h-1zM833 594h2v1h-2zM1032 594h1v1h-1zM275 595h3v1h-3zM281 595h1v1h-1zM395 595h1v1h-1zM1033 595h1v1h-1zM269 596h3v1h-3zM396 596h2v1h-2zM828 596h2v1h-2zM258 597h2v1h-2zM263 597h3v1h-3zM827 597h1v1h-1zM221 598h3v1h-3zM227 598h3v1h-3zM233 598h3v1h-3zM239 598h3v1h-3zM245 598h3v1h-3zM251 598h3v1h-3zM257 598h1v1h-1zM823 598h1v1h-1zM1037 598h1v1h-1zM216 599h2v1h-2zM401 599h1v1h-1zM821 599h2v1h-2zM1038 599h2v1h-2zM203 600h3v1h-3zM209 600h3v1h-3zM215 600h1v1h-1zM402 600h2v1h-2zM708 600h2v1h-2zM713 600h3v1h-3zM719 600h3v1h-3zM5 601h3v1h-3zM11 601h3v1h-3zM17 601h1v1h-1zM197 601h3v1h-3zM707 601h1v1h-1zM725 601h3v1h-3zM18 602h2v1h-2zM23 602h3v1h-3zM191 602h3v1h-3zM701 602h3v1h-3zM731 602h1v1h-1zM817 602h1v1h-1zM1043 602h1v1h-1zM29 603h3v1h-3zM185 603h3v1h-3zM407 603h1v1h-1zM732 603h2v1h-2zM737 603h1v1h-1zM816 603h1v1h-1zM1044 603h1v1h-1zM35 604h3v1h-3zM180 604h2v1h-2zM408 604h1v1h-1zM697 604h1v1h-1zM738 604h2v1h-2zM815 604h1v1h-1zM1045 604h1v1h-1zM179 605h1v1h-1zM409 605h1v1h-1zM695 605h2v1h-2zM743 605h3v1h-3zM41 606h1v1h-1zM173 606h3v1h-3zM811 606h1v1h-1zM42 607h1v1h-1zM168 607h2v1h-2zM689 607h3v1h-3zM749 607h1v1h-1zM809 607h2v1h-2zM43 608h1v1h-1zM167 608h1v1h-1zM413 608h2v1h-2zM685 608h1v1h-1zM750 608h2v1h-2zM1049 608h1v1h-1zM47 609h1v1h-1zM162 609h2v1h-2zM415 609h1v1h-1zM683 609h2v1h-2zM804 609h2v1h-2zM1050 609h1v1h-1zM48 610h2v1h-2zM161 610h1v1h-1zM803 610h1v1h-1zM1051 610h1v1h-1zM53 611h2v1h-2zM156 611h2v1h-2zM419 611h2v1h-2zM679 611h1v1h-1zM755 611h2v1h-2zM799 611h1v1h-1zM55 612h1v1h-1zM155 612h1v1h-1zM421 612h1v1h-1zM677 612h2v1h-2zM757 612h1v1h-1zM761 612h3v1h-3zM797 612h2v1h-2zM59 613h1v1h-1zM149 613h3v1h-3zM767 613h3v1h-3zM786 613h2v1h-2zM791 613h3v1h-3zM60 614h2v1h-2zM779 614h3v1h-3zM785 614h1v1h-1zM1055 614h1v1h-1zM143 615h3v1h-3zM425 615h1v1h-1zM672 615h2v1h-2zM773 615h3v1h-3zM1056 615h1v1h-1zM65 616h2v1h-2zM426 616h2v1h-2zM671 616h1v1h-1zM1057 616h1v1h-1zM67 617h1v1h-1zM137 617h3v1h-3zM71 618h1v1h-1zM132 618h2v1h-2zM431 618h1v1h-1zM667 618h1v1h-1zM72 619h2v1h-2zM131 619h1v1h-1zM432 619h2v1h-2zM665 619h2v1h-2zM77 620h3v1h-3zM125 620h3v1h-3zM437 620h3v1h-3zM1060 620h1v1h-1zM83 621h1v1h-1zM120 621h2v1h-2zM443 621h1v1h-1zM660 621h2v1h-2zM1061 621h1v1h-1zM84 622h2v1h-2zM89 622h1v1h-1zM114 622h2v1h-2zM119 622h1v1h-1zM444 622h2v1h-2zM659 622h1v1h-1zM1062 622h1v1h-1zM90 623h2v1h-2zM95 623h3v1h-3zM107 623h3v1h-3zM113 623h1v1h-1zM655 623h1v1h-1zM101 624h3v1h-3zM449 624h2v1h-2zM653 624h2v1h-2zM451 625h1v1h-1zM1066 625h2v1h-2zM455 626h1v1h-1zM649 626h1v1h-1zM1068 626h1v1h-1zM456 627h2v1h-2zM647 627h2v1h-2zM461 628h3v1h-3zM467 629h1v1h-1zM643 629h1v1h-1zM1072 629h1v1h-1zM468 630h2v1h-2zM473 630h1v1h-1zM641 630h2v1h-2zM1073 630h1v1h-1zM474 631h2v1h-2zM479 631h3v1h-3zM1074 631h1v1h-1zM485 632h3v1h-3zM637 632h1v1h-1zM491 633h3v1h-3zM497 633h1v1h-1zM635 633h2v1h-2zM498 634h2v1h-2zM503 634h1v1h-1zM1078 634h1v1h-1zM504 635h2v1h-2zM631 635h1v1h-1zM1079 635h1v1h-1zM509 636h3v1h-3zM629 636h2v1h-2zM1080 636h1v1h-1zM515 637h3v1h-3zM521 637h1v1h-1zM522 638h2v1h-2zM527 638h1v1h-1zM625 638h1v1h-1zM528 639h2v1h-2zM623 639h2v1h-2zM533 640h2v1h-2zM1084 640h1v1h-1zM535 641h1v1h-1zM617 641h3v1h-3zM1085 641h2v1h-2zM612 642h2v1h-2zM539 643h2v1h-2zM611 643h1v1h-1zM1090 643h1v1h-1zM541 644h1v1h-1zM545 644h3v1h-3zM605 644h3v1h-3zM1091 644h2v1h-2zM551 645h3v1h-3zM600 645h2v1h-2zM599 646h1v1h-1zM557 647h3v1h-3zM593 647h3v1h-3zM563 648h3v1h-3zM569 648h1v1h-1zM587 648h3v1h-3zM1096 648h2v1h-2zM570 649h2v1h-2zM575 649h3v1h-3zM581 649h3v1h-3zM1098 649h1v1h-1zM1102 652h2v1h-2zM1104 653h1v1h-1zM1108 654h3v1h-3zM1114 656h2v1h-2zM1116 657h1v1h-1z" fill="#ff0000"/>
<rect x="765" y="568" width="1" height="5" fill="#ff0000"/>
<path d="M6 711h3v1h-3zM12 711h3v1h-3zM18 711h3v1h-3zM24 711h3v1h-3zM30 711h3v1h-3zM36 711h3v1h-3zM42 711h3v1h-3zM48 711h3v1h-3zM54 711h3v1h-3zM60 711h3v1h-3zM66 711h3v1h-3zM72 711h3v1h-3zM78 711h3v1h-3zM84 711h3v1h-3zM90 711h3v1h-3zM96 711h3v1h-3zM102 711h3v1h-3zM108 711h3v1h-3zM114 711h3v1h-3zM120 711h3v1h-3zM126 711h3v1h-3zM132 711h3v1h-3zM138 711h3v1h-3zM144 711h3v1h-3zM150 711h3v1h-3zM156 711h3v1h-3zM162 711h3v1h-3zM168 711h3v1h-3zM174 711h3v1h-3zM180 711h3v1h-3zM186 711h3v1h-3zM192 711h3v1h-3zM198 711h3v1h-3zM204 711h3v1h-3zM210 711h3v1h-3zM216 711h3v1h-3zM222 711h3v1h-3zM228 711h3v1h-3zM234 711h3v1h-3zM240 711h3v1h-3zM246 711h3v1h-3zM252 711h3v1h-3zM258 711h3v1h-3zM264 711h3v1h-3zM270 711h3v1h-3zM276 711h3v1h-3zM282 711h3v1h-3zM288 711h3v1h-3zM294 711h3v1h-3zM300 711h3v1h-3zM306 711h3v1h-3zM312 711h3v1h-3zM318 711h3v1h-3zM324 711h3v1h-3zM330 711h3v1h-3zM336 711h3v1h-3zM342 711h3v1h-3zM348 711h3v1h-3zM354 711h3v1h-3zM360 711h3v1h-3zM366 711h3v1h-3zM372 711h3v1h-3zM378 711h3v1h-3zM384 711h3v1h-3zM390 711h3v1h-3zM396 711h3v1h-3zM402 711h3v1h-3zM408 711h3v1h-3zM414 711h3v1h-3zM420 711h3v1h-3zM426 711h3v1h-3zM432 711h3v1h-3zM438 711h3v1h-3zM444 711h3v1h-3zM450 711h3v1h-3zM456 711h3v1h-3zM462 711h3v1h-3zM468 711h3v1h-3zM474 711h3v1h-3zM480 711h3v1h-3zM486 711h3v1h-3zM492 711h3v1h-3zM498 711h3v1h-3zM504 711h3v1h-3zM510 711h3v1h-3zM516 711h3v1h-3zM522 711h3v1h-3zM528 711h3v1h-3zM534 711h3v1h-3zM540 711h3v1h-3zM546 711h3v1h-3zM552 711h3v1h-3zM558 711h3v1h-3zM564 711h3v1h-3zM570 711h3v1h-3zM576 711h3v1h-3zM582 711h3v1h-3zM588 711h3v1h-3zM594 711h3v1h-3zM600 711h3v1h-3zM606 711h3v1h-3zM612 711h3v1h-3zM618 711h3v1h-3zM624 711h3v1h-3zM630 711h3v1h-3zM636 711h3v1h-3zM642 711h3v1h-3zM648 711h3v1h-3zM654 711h3v1h-3zM660 711h3v1h-3zM666 711h3v1h-3zM672 711h3v1h-3zM678 711h3v1h-3zM684 711h3v1h-3zM690 711h3v1h-3zM696 711h3v1h-3zM702 711h3v1h-3zM708 711h3v1h-3zM714 711h3v1h-3zM720 711h3v1h-3zM726 711h3v1h-3zM732 711h3v1h-3zM738 711h3v1h-3zM744 711h3v1h-3zM750 711h3v1h-3zM756 711h3v1h-3zM762 711h3v1h-3zM768 711h3v1h-3zM774 711h3v1h-3zM780 711h3v1h-3zM786 711h3v1h-3zM792 711h3v1h-3zM798 711h3v1h-3zM804 711h3v1h-3zM810 711h3v1h-3zM816 711h3v1h-3zM822 711h3v1h-3zM828 711h3v1h-3zM834 711h3v1h-3zM840 711h3v1h-3zM846 711h3v1h-3zM852 711h3v1h-3zM858 711h3v1h-3zM864 711h3v1h-3zM870 711h3v1h-3zM876 711h3v1h-3zM882 711h3v1h-3zM888 711h3v1h-3zM894 711h3v1h-3zM900 711h3v1h-3zM906 711h3v1h-3zM912 711h3v1h-3zM918 711h3v1h-3zM924 711h3v1h-3zM930 711h3v1h-3zM936 711h3v1h-3zM942 711h3v1h-3zM948 711h3v1h-3zM954 711h3v1h-3zM960 711h3v1h-3zM966 711h3v1h-3zM972 711h3v1h-3zM978 711h3v1h-3zM984 711h3v1h-3zM990 711h3v1h-3zM996 711h3v1h-3zM1002 711h3v1h-3zM1008 711h3v1h-3zM1014 711h3v1h-3zM1020 711h3v1h-3zM1026 711h3v1h-3zM1032 711h3v1h-3zM1038 711h3v1h-3zM1044 711h3v1h-3zM1050 711h3v1h-3zM1056 711h3v1h-3zM1062 711h3v1h-3zM1068 711h3v1h-3zM1074 711h3v1h-3zM1080 711h3v1h-3zM1086 711h3v1h-3zM1092 711h3v1h-3zM1098 711h3v1h-3zM1104 711h3v1h-3zM1110 711h3v1h-3zM1116 711h3v1h-3zM1122 711h3v1h-3zM1128 711h3v1h-3zM1134 711h3v1h-3zM1140 711h3v1h-3zM1146 711h3v1h-3zM1152 711h3v1h-3zM1158 711h3v1h-3zM1164 711h3v1h-3zM1170 711h3v1h-3zM1176 711h3v1h-3zM1182 711h3v1h-3zM1188 711h3v1h-3zM1194 711h3v1h-3zM1200 711h3v1h-3zM1206 711h3v1h-3zM1212 711h3v1h-3zM1218 711h3v1h-3zM1224 711h3v1h-3zM1230 711h3v1h-3zM1236 711h3v1h-3zM1242 711h3v1h-3zM1248 711h3v1h-3zM1254 711h3v1h-3zM1260 711h3v1h-3zM1266 711h3v1h-3zM1272 711h3v1h-3zM1278 711h3v1h-3zM1284 711h3v1h-3zM1290 711h3v1h-3zM1296 711h3v1h-3zM1302 711h3v1h-3zM1308 711h3v1h-3zM1314 711h3v1h-3zM1320 711h3v1h-3zM1326 711h3v1h-3zM1332 711h3v1h-3zM1338 711h3v1h-3zM1344 711h3v1h-3zM1350 711h3v1h-3zM1356 711h3v1h-3zM1362 711h3v1h-3zM1368 711h3v1h-3zM1374 711h3v1h-3zM1380 711h3v1h-3zM1386 711h3v1h-3zM1392 711h3v1h-3zM1398 711h3v1h-3zM1404 711h3v1h-3zM1410 711h3v1h-3zM1416 711h3v1h-3z" fill="#c0c0c0"/>
<path d="M6 762h3v1h-3zM12 762h3v1h-3zM18 762h3v1h-3zM24 762h3v1h-3zM30 762h3v1h-3zM36 762h3v1h-3zM42 762h3v1h-3zM48 762h3v1h-3zM54 762h3v1h-3zM60 762h3v1h-3zM66 762h3v1h-3zM72 762h3v1h-3zM78 762h3v1h-3zM84 762h3v1h-3zM90 762h3v1h-3zM96 762h3v1h-3zM102 762h3v1h-3zM108 762h3v1h-3zM114 762h3v1h-3zM120 762h3v1h-3zM126 762h3v1h-3zM132 762h3v1h-3zM138 762h3v1h-3zM144 762h3v1h-3zM150 762h3v1h-3zM156 762h3v1h-3zM162 762h3v1h-3zM168 762h3v1h-3zM174 762h3v1h-3zM180 762h3v1h-3zM186 762h3v1h-3zM192 762h3v1h-3zM198 762h3v1h-3zM204 762h3v1h-3zM210 762h3v1h-3zM216 762h3v1h-3zM222 762h3v1h-3zM228 762h3v1h-3zM234 762h3v1h-3zM240 762h3v1h-3zM246 762h3v1h-3zM252 762h3v1h-3zM258 762h3v1h-3zM264 762h3v1h-3zM270 762h3v1h-3zM276 762h3v1h-3zM282 762h3v1h-3zM288 762h3v1h-3zM294 762h3v1h-3zM300 762h3v1h-3zM306 762h3v1h-3zM312 762h3v1h-3zM318 762h3v1h-3zM324 762h3v1h-3zM330 762h3v1h-3zM336 762h3v1h-3zM342 762h3v1h-3zM348 762h3v1h-3zM354 762h3v1h-3zM360 762h3v1h-3zM366 762h3v1h-3zM372 762h3v1h-3zM378 762h3v1h-3zM384 762h3v1h-3zM390 762h3v1h-3zM396 762h3v1h-3zM402 762h3v1h-3zM408 762h3v1h-3zM414 762h3v1h-3zM420 762h3v1h-3zM426 762h3v1h-3zM432 762h3v1h-3zM438 762h3v1h-3zM444 762h3v1h-3zM450 762h3v1h-3zM456 762h3v1h-3zM462 762h3v1h-3zM468 762h3v1h-3zM474 762h3v1h-3zM480 762h3v1h-3zM486 762h3v1h-3zM492 762h3v1h-3zM498 762h3v1h-3zM504 762h3v1h-3zM510 762h3v1h-3zM516 762h3v1h-3zM522 762h3v1h-3zM528 762h3v1h-3zM534 762h3v1h-3zM540 762h3v1h-3zM546 762h3v1h-3zM552 762h3v1h-3zM558 762h3v1h-3zM564 762h3v1h-3zM570 762h3v1h-3zM576 762h3v1h-3zM582 762h3v1h-3zM588 762h3v1h-3zM594 762h3v1h-3zM600 762h3v1h-3zM606 762h3v1h-3zM612 762h3v1h-3zM618 762h3v1h-3zM624 762h3v1h-3zM630 762h3v1h-3zM636 762h3v1h-3zM642 762h3v1h-3zM648 762h3v1h-3zM654 762h3v1h-3zM660 762h3v1h-3zM666 762h3v1h-3zM672 762h3v1h-3zM678 762h3v1h-3zM684 762h3v1h-3zM690 762h3v1h-3zM696 762h3v1h-3zM702 762h3v1h-3zM708 762h3v1h-3zM714 762h3v1h-3zM720 762h3v1h-3zM726 762h3v1h-3zM732 762h3v1h-3zM738 762h3v1h-3zM744 762h3v1h-3zM750 762h3v1h-3zM756 762h3v1h-3zM762 762h3v1h-3zM768 762h3v1h-3zM774 762h3v1h-3zM780 762h3v1h-3zM786 762h3v1h-3zM792 762h3v1h-3zM798 762h3v1h-3zM804 762h3v1h-3zM810 762h3v1h-3zM816 762h3v1h-3zM822 762h3v1h-3zM828 762h3v1h-3zM834 762h3v1h-3zM840 762h3v1h-3zM846 762h3v1h-3zM852 762h3v1h-3zM858 762h3v1h-3zM864 762h3v1h-3zM870 762h3v1h-3zM876 762h3v1h-3zM882 762h3v1h-3zM888 762h3v1h-3zM894 762h3v1h-3zM900 762h3v1h-3zM906 762h3v1h-3zM912 762h3v1h-3zM918 762h3v1h-3zM924 762h3v1h-3zM930 762h3v1h-3zM936 762h3v1h-3zM942 762h3v1h-3zM948 762h3v1h-3zM954 762h3v1h-3zM960 762h3v1h-3zM966 762h3v1h-3zM972 762h3v1h-3zM978 762h3v1h-3zM984 762h3v1h-3zM990 762h3v1h-3zM996 762h3v1h-3zM1002 762h3v1h-3zM1008 762h3v1h-3zM1014 762h3v1h-3zM1020 762h3v1h-3zM1026 762h3v1h-3zM1032 762h3v1h-3zM1038 762h3v1h-3zM1044 762h3v1h-3zM1050 762h3v1h-3zM1056 762h3v1h-3zM1062 762h3v1h-3zM1068 762h3v1h-3zM1074 762h3v1h-3zM1080 762h3v1h-3zM1086 762h3v1h-3zM1092 762h3v1h-3zM1098 762h3v1h-3zM1104 762h3v1h-3zM1110 762h3v1h-3zM1116 762h3v1h-3zM1122 762h3v1h-3zM1128 762h3v1h-3zM1134 762h3v1h-3zM1140 762h3v1h-3zM1146 762h3v1h-3zM1152 762h3v1h-3zM1158 762h3v1h-3zM1164 762h3v1h-3zM1170 762h3v1h-3zM1176 762h3v1h-3zM1182 762h3v1h-3zM1188 762h3v1h-3zM1194 762h3v1h-3zM1200 762h3v1h-3zM1206 762h3v1h-3zM1212 762h3v1h-3zM1218 762h3v1h-3zM1224 762h3v1h-3zM1230 762h3v1h-3zM1236 762h3v1h-3zM1242 762h3v1h-3zM1248 762h3v1h-3zM1254 762h3v1h-3zM1260 762h3v1h-3zM1266 762h3v1h-3zM1272 762h3v1h-3zM1278 762h3v1h-3zM1284 762h3v1h-3zM1290 762h3v1h-3zM1296 762h3v1h-3zM1302 762h3v1h-3zM1308 762h3v1h-3zM1314 762h3v1h-3zM1320 762h3v1h-3zM1326 762h3v1h-3zM1332 762h3v1h-3zM1338 762h3v1h-3zM1344 762h3v1h-3zM1350 762h3v1h-3zM1356 762h3v1h-3zM1362 762h3v1h-3zM1368 762h3v1h-3zM1374 762h3v1h-3zM1380 762h3v1h-3zM1386 762h3v1h-3zM1392 762h3v1h-3zM1398 762h3v1h-3zM1404 762h3v1h-3zM1410 762h3v1h-3zM1416 762h3v1h-3z" fill="#c0c0c0"/>
<path d="M812 718h10v1h-10zM810 719h2v1h-2zM821 719h1v1h-1zM807 720h3v1h-3zM822 720h1v2h-1zM805 721h2v1h-2zM949 721h1v1h-1zM803 722h2v1h-2zM823 722h1v2h-1zM845 722h5v1h-5zM948 722h1v1h-1zM950 722h2v1h-2zM277 723h1v1h-1zM801 723h2v1h-2zM844 723h1v1h-1zM850 723h4v1h-4zM947 723h1v2h-1zM952 723h1v1h-1zM276 724h1v1h-1zM278 724h1v1h-1zM799 724h2v1h-2zM824 724h1v2h-1zM842 724h2v1h-2zM854 724h1v2h-1zM924 724h3v1h-3zM953 724h1v1h-1zM275 725h1v1h-1zM279 725h1v2h-1zM293 725h19v1h-19zM324 725h2v1h-2zM669 725h2v1h-2zM797 725h2v1h-2zM841 725h1v1h-1zM922 725h2v1h-2zM927 725h2v1h-2zM946 725h1v1h-1zM954 725h2v1h-2zM274 726h1v1h-1zM292 726h1v1h-1zM312 726h4v1h-4zM320 726h4v1h-4zM326 726h1v1h-1zM668 726h1v1h-1zM671 726h3v1h-3zM795 726h2v1h-2zM825 726h1v2h-1zM840 726h1v1h-1zM855 726h1v1h-1zM909 726h5v1h-5zM919 726h3v1h-3zM929 726h2v1h-2zM945 726h1v1h-1zM956 726h1v1h-1zM273 727h1v1h-1zM280 727h1v1h-1zM291 727h1v1h-1zM316 727h4v1h-4zM327 727h1v1h-1zM645 727h1v1h-1zM667 727h1v1h-1zM674 727h2v1h-2zM794 727h1v1h-1zM838 727h2v1h-2zM856 727h1v1h-1zM908 727h1v1h-1zM914 727h5v1h-5zM931 727h2v1h-2zM944 727h1v1h-1zM957 727h10v1h-10zM272 728h1v1h-1zM281 728h1v1h-1zM290 728h1v1h-1zM328 728h2v1h-2zM643 728h2v1h-2zM646 728h2v1h-2zM666 728h1v1h-1zM676 728h2v1h-2zM792 728h2v1h-2zM826 728h1v2h-1zM837 728h1v1h-1zM857 728h1v2h-1zM907 728h1v1h-1zM933 728h2v1h-2zM943 728h1v2h-1zM967 728h3v1h-3zM133 729h1v1h-1zM172 729h2v1h-2zM271 729h1v1h-1zM282 729h1v1h-1zM289 729h1v1h-1zM330 729h1v1h-1zM642 729h1v1h-1zM648 729h1v1h-1zM664 729h2v1h-2zM678 729h1v1h-1zM780 729h6v1h-6zM790 729h2v1h-2zM836 729h1v1h-1zM906 729h1v1h-1zM935 729h3v1h-3zM970 729h2v1h-2zM132 730h1v1h-1zM134 730h1v1h-1zM170 730h2v1h-2zM174 730h1v2h-1zM270 730h1v1h-1zM283 730h1v2h-1zM288 730h1v1h-1zM331 730h1v1h-1zM640 730h2v1h-2zM649 730h1v1h-1zM663 730h1v1h-1zM679 730h1v1h-1zM778 730h2v1h-2zM786 730h4v1h-4zM827 730h1v2h-1zM834 730h2v1h-2zM858 730h1v1h-1zM905 730h1v2h-1zM938 730h2v1h-2zM942 730h1v1h-1zM972 730h2v1h-2zM131 731h1v1h-1zM135 731h1v1h-1zM167 731h3v1h-3zM266 731h4v1h-4zM287 731h1v1h-1zM332 731h1v1h-1zM638 731h2v1h-2zM650 731h2v1h-2zM662 731h1v1h-1zM680 731h1v1h-1zM775 731h3v1h-3zM833 731h1v1h-1zM859 731h1v1h-1zM940 731h2v1h-2zM974 731h1v1h-1zM130 732h1v1h-1zM136 732h2v1h-2zM165 732h2v1h-2zM175 732h1v1h-1zM261 732h5v1h-5zM284 732h1v1h-1zM286 732h1v1h-1zM333 732h10v1h-10zM637 732h1v1h-1zM652 732h1v1h-1zM658 732h4v1h-4zM681 732h1v1h-1zM773 732h2v1h-2zM828 732h1v2h-1zM832 732h1v1h-1zM860 732h1v2h-1zM904 732h1v1h-1zM975 732h1v1h-1zM129 733h1v2h-1zM138 733h1v1h-1zM164 733h1v1h-1zM176 733h1v1h-1zM229 733h3v1h-3zM259 733h2v1h-2zM285 733h1v1h-1zM343 733h3v1h-3zM636 733h1v1h-1zM653 733h5v1h-5zM682 733h1v1h-1zM771 733h2v1h-2zM830 733h2v1h-2zM903 733h1v1h-1zM976 733h2v1h-2zM139 734h1v1h-1zM163 734h1v1h-1zM177 734h1v2h-1zM204 734h10v1h-10zM228 734h1v2h-1zM232 734h4v1h-4zM257 734h2v1h-2zM346 734h2v1h-2zM635 734h1v2h-1zM683 734h1v1h-1zM770 734h1v1h-1zM829 734h1v1h-1zM861 734h11v1h-11zM902 734h1v1h-1zM978 734h1v1h-1zM128 735h1v1h-1zM140 735h1v1h-1zM162 735h1v1h-1zM200 735h4v1h-4zM214 735h1v2h-1zM236 735h6v1h-6zM255 735h2v1h-2zM348 735h2v1h-2zM684 735h1v1h-1zM768 735h2v1h-2zM872 735h4v1h-4zM900 735h2v1h-2zM979 735h1v1h-1zM116 736h4v1h-4zM127 736h1v1h-1zM141 736h2v1h-2zM161 736h1v1h-1zM178 736h1v1h-1zM197 736h3v1h-3zM227 736h1v1h-1zM242 736h13v1h-13zM350 736h1v1h-1zM634 736h1v1h-1zM685 736h5v1h-5zM766 736h2v1h-2zM876 736h2v1h-2zM898 736h2v1h-2zM980 736h1v1h-1zM114 737h2v1h-2zM120 737h4v1h-4zM126 737h1v1h-1zM143 737h2v1h-2zM160 737h1v1h-1zM179 737h1v1h-1zM195 737h2v1h-2zM215 737h1v1h-1zM226 737h1v2h-1zM351 737h1v1h-1zM633 737h1v1h-1zM690 737h4v1h-4zM762 737h4v1h-4zM878 737h1v1h-1zM895 737h3v1h-3zM981 737h2v1h-2zM111 738h3v1h-3zM124 738h2v1h-2zM145 738h2v1h-2zM159 738h1v1h-1zM180 738h1v2h-1zM193 738h2v1h-2zM216 738h1v1h-1zM352 738h1v1h-1zM632 738h1v1h-1zM694 738h1v1h-1zM757 738h5v1h-5zM879 738h1v1h-1zM893 738h2v1h-2zM983 738h2v1h-2zM85 739h2v1h-2zM101 739h10v1h-10zM147 739h2v1h-2zM158 739h1v1h-1zM191 739h2v1h-2zM217 739h1v2h-1zM225 739h1v1h-1zM353 739h1v2h-1zM631 739h1v2h-1zM695 739h1v1h-1zM756 739h1v1h-1zM880 739h1v1h-1zM892 739h1v1h-1zM985 739h2v1h-2zM83 740h2v1h-2zM87 740h2v1h-2zM99 740h2v1h-2zM149 740h9v1h-9zM181 740h10v1h-10zM224 740h1v2h-1zM621 740h3v1h-3zM696 740h2v1h-2zM755 740h1v1h-1zM881 740h1v2h-1zM891 740h1v1h-1zM987 740h2v1h-2zM82 741h1v1h-1zM89 741h2v1h-2zM97 741h2v1h-2zM218 741h1v1h-1zM354 741h1v1h-1zM620 741h1v1h-1zM624 741h4v1h-4zM630 741h1v1h-1zM698 741h1v1h-1zM754 741h1v1h-1zM890 741h1v1h-1zM989 741h1v1h-1zM80 742h2v1h-2zM91 742h2v1h-2zM95 742h2v1h-2zM219 742h1v1h-1zM223 742h1v1h-1zM355 742h1v1h-1zM619 742h1v2h-1zM628 742h2v1h-2zM699 742h1v1h-1zM753 742h1v2h-1zM882 742h1v1h-1zM888 742h2v1h-2zM990 742h2v1h-2zM13 743h5v1h-5zM69 743h5v1h-5zM78 743h2v1h-2zM93 743h2v1h-2zM220 743h1v2h-1zM222 743h1v2h-1zM356 743h1v1h-1zM700 743h1v1h-1zM883 743h1v1h-1zM887 743h1v1h-1zM992 743h2v1h-2zM11 744h2v1h-2zM18 744h8v1h-8zM68 744h1v1h-1zM74 744h4v1h-4zM357 744h1v1h-1zM573 744h5v1h-5zM618 744h1v1h-1zM701 744h2v1h-2zM752 744h1v1h-1zM884 744h1v1h-1zM886 744h1v1h-1zM994 744h1v1h-1zM10 745h1v1h-1zM26 745h4v1h-4zM67 745h1v1h-1zM221 745h1v1h-1zM358 745h1v2h-1zM572 745h1v1h-1zM578 745h6v1h-6zM596 745h6v1h-6zM617 745h1v1h-1zM703 745h3v1h-3zM751 745h1v1h-1zM885 745h1v1h-1zM995 745h2v1h-2zM8 746h2v1h-2zM30 746h1v1h-1zM66 746h1v1h-1zM571 746h1v2h-1zM584 746h4v1h-4zM592 746h4v1h-4zM602 746h5v1h-5zM616 746h1v1h-1zM706 746h2v1h-2zM750 746h1v1h-1zM997 746h1v1h-1zM6 747h2v1h-2zM31 747h1v1h-1zM64 747h2v1h-2zM359 747h1v2h-1zM396 747h6v1h-6zM588 747h4v1h-4zM607 747h2v1h-2zM615 747h1v2h-1zM708 747h2v1h-2zM746 747h4v1h-4zM998 747h1v1h-1zM5 748h1v1h-1zM32 748h1v1h-1zM53 748h3v1h-3zM63 748h1v1h-1zM394 748h2v1h-2zM402 748h4v1h-4zM570 748h1v1h-1zM609 748h2v1h-2zM710 748h1v1h-1zM741 748h5v1h-5zM999 748h1v1h-1zM33 749h1v1h-1zM52 749h1v1h-1zM56 749h4v1h-4zM62 749h1v1h-1zM360 749h1v2h-1zM391 749h3v1h-3zM406 749h2v1h-2zM453 749h3v1h-3zM476 749h3v1h-3zM569 749h1v1h-1zM611 749h2v1h-2zM614 749h1v1h-1zM711 749h1v1h-1zM740 749h1v1h-1zM1000 749h2v1h-2zM34 750h1v1h-1zM50 750h2v1h-2zM60 750h2v1h-2zM386 750h5v1h-5zM408 750h1v1h-1zM451 750h2v1h-2zM456 750h4v1h-4zM474 750h2v1h-2zM479 750h3v1h-3zM568 750h1v1h-1zM613 750h1v1h-1zM712 750h1v1h-1zM739 750h1v1h-1zM1002 750h1v1h-1zM35 751h1v1h-1zM49 751h1v1h-1zM361 751h1v1h-1zM381 751h5v1h-5zM409 751h1v1h-1zM429 751h1v1h-1zM449 751h2v1h-2zM460 751h6v1h-6zM471 751h3v1h-3zM482 751h2v1h-2zM567 751h1v2h-1zM713 751h1v2h-1zM738 751h1v1h-1zM1003 751h1v1h-1zM36 752h1v1h-1zM48 752h1v1h-1zM362 752h1v2h-1zM380 752h1v1h-1zM410 752h2v1h-2zM428 752h1v1h-1zM430 752h1v1h-1zM447 752h2v1h-2zM466 752h5v1h-5zM484 752h2v1h-2zM725 752h1v1h-1zM737 752h1v2h-1zM1004 752h1v1h-1zM37 753h5v1h-5zM46 753h2v1h-2zM378 753h2v1h-2zM412 753h1v1h-1zM427 753h1v1h-1zM431 753h1v1h-1zM445 753h2v1h-2zM486 753h2v1h-2zM541 753h1v1h-1zM566 753h1v1h-1zM714 753h1v1h-1zM723 753h2v1h-2zM726 753h2v1h-2zM1005 753h13v1h-13zM42 754h4v1h-4zM363 754h1v2h-1zM377 754h1v1h-1zM413 754h2v1h-2zM426 754h1v1h-1zM432 754h2v1h-2zM443 754h2v1h-2zM488 754h1v1h-1zM539 754h2v1h-2zM542 754h2v1h-2zM565 754h1v1h-1zM715 754h1v1h-1zM721 754h2v1h-2zM728 754h2v1h-2zM736 754h1v1h-1zM1018 754h5v1h-5zM1093 754h2v1h-2zM376 755h1v1h-1zM415 755h2v1h-2zM424 755h2v1h-2zM434 755h1v1h-1zM442 755h1v1h-1zM489 755h1v1h-1zM538 755h1v1h-1zM544 755h2v1h-2zM563 755h2v1h-2zM716 755h1v1h-1zM719 755h2v1h-2zM730 755h1v1h-1zM735 755h1v1h-1zM1023 755h2v1h-2zM1093 755h1v1h-1zM1095 755h3v1h-3zM364 756h1v2h-1zM374 756h2v1h-2zM417 756h2v1h-2zM423 756h1v1h-1zM435 756h1v1h-1zM440 756h2v1h-2zM490 756h2v1h-2zM536 756h2v1h-2zM546 756h1v1h-1zM562 756h1v1h-1zM717 756h2v1h-2zM731 756h2v1h-2zM734 756h1v1h-1zM1025 756h2v1h-2zM1092 756h1v2h-1zM1098 756h2v1h-2zM370 757h4v1h-4zM419 757h2v1h-2zM422 757h1v1h-1zM436 757h1v1h-1zM438 757h2v1h-2zM492 757h1v1h-1zM534 757h2v1h-2zM547 757h2v1h-2zM560 757h2v1h-2zM733 757h1v1h-1zM1027 757h2v1h-2zM1100 757h4v1h-4zM365 758h5v1h-5zM421 758h1v1h-1zM437 758h1v1h-1zM493 758h3v1h-3zM533 758h1v1h-1zM549 758h5v1h-5zM558 758h2v1h-2zM1029 758h2v1h-2zM1091 758h1v2h-1zM1104 758h4v1h-4zM1114 758h4v1h-4zM496 759h4v1h-4zM532 759h1v2h-1zM554 759h4v1h-4zM1031 759h2v1h-2zM1108 759h6v1h-6zM500 760h6v1h-6zM1033 760h2v1h-2zM1090 760h1v2h-1zM506 761h5v1h-5zM531 761h1v1h-1zM1035 761h2v1h-2zM511 762h2v1h-2zM530 762h1v1h-1zM1037 762h1v1h-1zM1089 762h1v2h-1zM513 763h2v1h-2zM529 763h1v2h-1zM1038 763h2v1h-2zM515 764h2v1h-2zM1040 764h2v1h-2zM1088 764h1v2h-1zM517 765h2v1h-2zM528 765h1v1h-1zM1042 765h1v1h-1zM519 766h2v1h-2zM527 766h1v1h-1zM1043 766h2v1h-2zM1087 766h1v2h-1zM521 767h2v1h-2zM526 767h1v2h-1zM1045 767h13v1h-13zM523 768h2v1h-2zM1058 768h5v1h-5zM1086 768h1v2h-1zM525 769h1v1h-1zM1063 769h3v1h-3zM1066 770h2v1h-2zM1085 770h1v2h-1zM1068 771h17v1h-17z" fill="#1e90ff"/>
</g>
<rect x="4" y="25" width="1417" height="1" fill="#000"/>
<rect x="4" y="564" width="1417" height="1" fill="#000"/>
<rect x="4" y="25" width="1" height="540" fill="#000"/>
<rect x="1420" y="25" width="1" height="540" fill="#000"/>
<rect x="4" y="566" width="1417" height="1" fill="#000"/>
<rect x="4" y="669" width="1417" height="1" fill="#000"/>
<rect x="4" y="566" width="1" height="104" fill="#000"/>
<rect x="1420" y="566" width="1" height="104" fill="#000"/>
<rect x="4" y="671" width="1417" height="1" fill="#000"/>
<rect x="4" y="801" width="1417" height="1" fill="#000"/>
<rect x="4" y="671" width="1" height="131" fill="#000"/>
<rect x="1420" y="671" width="1" height="131" fill="#000"/>
<rect x="5" y="150" width="1416" height="3" fill="#ff0000"/>
<rect x="4" y="151" width="1418" height="1" fill="#ff0000"/>
<rect x="5" y="291" width="1416" height="3" fill="#ff0000"/>
<rect x="4" y="292" width="1418" height="1" fill="#ff0000"/>
<rect x="5" y="372" width="1416" height="3" fill="#ff0000"/>
<rect x="4" y="373" width="1418" height="1" fill="#ff0000"/>
<rect x="4" y="370" width="7" height="7" fill="#ff0000"/>
<rect x="7" y="373" width="1" height="1" fill="#fff"/>
<rect x="1414" y="370" width="7" height="7" fill="#ff0000"/>
<rect x="1417" y="373" width="1" height="1" fill="#fff"/>
<rect x="5" y="480" width="1416" height="3" fill="#00ff00"/>
<rect x="4" y="481" width="1418" height="1" fill="#00ff00"/>
<rect x="4" y="478" width="7" height="7" fill="#00ff00"/>
<rect x="7" y="481" width="1" height="1" fill="#fff"/>
<rect x="1414" y="478" width="7" height="7" fill="#00ff00"/>
<rect x="1417" y="481" width="1" height="1" fill="#fff"/>
<rect x="5" y="550" width="1416" height="3" fill="#0000ff"/>
<rect x="4" y="551" width="1418" height="1" fill="#0000ff"/>
<rect x="4" y="548" width="7" height="7" fill="#0000ff"/>
<rect x="7" y="551" width="1" height="1" fill="#fff"/>
<rect x="1414" y="548" width="7" height="7" fill="#0000ff"/>
<rect x="1417" y="551" width="1" height="1" fill="#fff"/>
<rect x="1421" y="33" width="2" height="1" fill="#000"/>
<rect x="1421" y="66" width="2" height="1" fill="#000"/>
<rect x="1421" y="99" width="2" height="1" fill="#000"/>
<rect x="1421" y="132" width="2" height="1" fill="#000"/>
<rect x="1421" y="165" width="2" height="1" fill="#000"/>
<rect x="1421" y="198" width="2" height="1" fill="#000"/>
<rect x="1421" y="231" width="2" height="1" fill="#000"/>
<rect x="1421" y="264" width="2" height="1" fill="#000"/>
<rect x="1421" y="297" width="2" height="1" fill="#000"/>
<rect x="1421" y="330" width="2" height="1" fill="#000"/>
<rect x="1421" y="363" width="2" height="1" fill="#000"/>
<rect x="1421" y="396" width="2" height="1" fill="#000"/>
<rect x="1421" y="429" width="2" height="1" fill="#000"/>
<rect x="1421" y="462" width="2" height="1" fill="#000"/>
<rect x="1421" y="495" width="2" height="1" fill="#000"/>
<rect x="1421" y="528" width="2" height="1" fill="#000"/>
<rect x="1421" y="561" width="2" height="1" fill="#000"/>
<rect x="1421" y="568" width="1" height="1" fill="#000"/>
<rect x="1421" y="597" width="1" height="1" fill="#000"/>
<rect x="1421" y="668" width="1" height="1" fill="#000"/>
<rect x="1421" y="673" width="1" height="1" fill="#000"/>
<rect x="1421" y="711" width="1" height="1" fill="#000"/>
<rect x="1421" y="762" width="1" height="1" fill="#000"/>
<rect x="1421" y="800" width="1" height="1" fill="#000"/>
<rect x="5" y="802" width="1" height="3" fill="#000"/>
<rect x="69" y="802" width="1" height="3" fill="#000"/>
<rect x="133" y="802" width="1" height="3" fill="#000"/>
<rect x="197" y="802" width="1" height="3" fill="#000"/>
<rect x="261" y="802" width="1" height="3" fill="#000"/>
<rect x="325" y="802" width="1" height="3" fill="#000"/>
<rect x="389" y="802" width="1" height="3" fill="#000"/>
<rect x="453" y="802" width="1" height="3" fill="#000"/>
<rect x="517" y="802" width="1" height="3" fill="#000"/>
<rect x="581" y="802" width="1" height="3" fill="#000"/>
<rect x="645" y="802" width="1" height="3" fill="#000"/>
<rect x="709" y="802" width="1" height="3" fill="#000"/>
<rect x="773" y="802" width="1" height="3" fill="#000"/>
<rect x="837" y="802" width="1" height="3" fill="#000"/>
<rect x="901" y="802" width="1" height="3" fill="#000"/>
<rect x="965" y="802" width="1" height="3" fill="#000"/>
<rect x="1029" y="802" width="1" height="3" fill="#000"/>
<rect x="1093" y="802" width="1" height="3" fill="#000"/>
<polygon points="8,36 15,36 11.5,32" fill="#000"/>
<path d="M1131 26h9v1h-9zM1132 27h7v1h-7zM1133 28h5v1h-5zM1134 29h3v1h-3zM1135 30h1v1h-1z" fill="#c0c0c0"/>
</svg>
<div class="bx" style="top:449px;background:#000"></div>
<div class="bx" style="top:145px;background:#ff0000"></div>
<div class="bx" style="top:286px;background:#ff0000"></div>
<div class="bx" style="top:367px;background:#ff0000"></div>
<div class="bx" style="top:475px;background:#00ff00"></div>
<div class="bx" style="top:545px;background:#0000ff"></div>
<!-- trade panel -->
<svg width="240" height="115" viewBox="0 0 240 115" shape-rendering="crispEdges">
<defs><linearGradient id="pg" gradientUnits="userSpaceOnUse" x1="0" y1="46" x2="0" y2="108">
<stop offset="0" stop-color="#5a5aff"/><stop offset="0.36" stop-color="#3a3ae4"/><stop offset="1" stop-color="#00009c"/></linearGradient>
<linearGradient id="bg" x1="0" y1="0" x2="0" y2="1"><stop offset="0" stop-color="#ededed"/><stop offset="0.5" stop-color="#e2e2e2"/><stop offset="0.5" stop-color="#d4d4d4"/><stop offset="1" stop-color="#cccccc"/></linearGradient></defs>
<path d="M8 45H60V69H117V109H8Z" fill="#0000b0"/>
<path d="M9 46H59V70H116V108H9Z" fill="url(#pg)"/>
<path d="M175 45H227V109H119V69H175Z" fill="#0000b0"/>
<path d="M176 46H226V108H120V70H176Z" fill="url(#pg)"/>
<rect x="12" y="68" width="44" height="1" fill="#000078"/><rect x="12" y="69" width="44" height="1" fill="#7a7aff"/>
<rect x="179" y="68" width="44" height="1" fill="#000078"/><rect x="179" y="69" width="44" height="1" fill="#7a7aff"/>
<rect x="62" y="45" width="111" height="22" fill="#adadad"/>
<rect x="63" y="46" width="109" height="20" fill="#fff"/>
<rect x="63" y="46" width="20" height="20" fill="#f4f4f4"/><rect x="64" y="47" width="19" height="19" fill="url(#bg)"/>
<rect x="83" y="46" width="1" height="20" fill="#adadad"/>
<rect x="152" y="46" width="20" height="20" fill="#f4f4f4"/><rect x="153" y="47" width="19" height="19" fill="url(#bg)"/>
<rect x="151" y="46" width="1" height="20" fill="#adadad"/>
<path d="M70 54h5v1h-5zM71 55h3v1h-3zM72 56h1v1h-1z" fill="#5a6ecc"/>
<path d="M161 54h1v1h-1zM160 55h3v1h-3zM159 56h5v1h-5z" fill="#5a6ecc"/>
</svg>
<div class="bigd" style="left:54.5px;top:72px">79</div>
<div class="bigd" style="left:166px;top:72px">81</div>
<!-- bottom tabs -->
<div id="botline0"></div>
<div id="bot"></div><div id="botline"></div><div id="botw"></div><div id="leftband2"></div>
<div id="act"></div>
<div class="sep" style="left:330px"></div><div class="sep" style="left:438px"></div><div class="sep" style="left:550px"></div><div class="sep" style="left:670px"></div><div class="sep" style="left:794px"></div><div class="sep" style="left:890px"></div><div class="sep" style="left:970px"></div><div class="sep" style="left:1074px"></div>
<svg width="1465" height="848" style="pointer-events:none" shape-rendering="crispEdges"><path d="M1438 830h1v7h-1zM1437 831h1v5h-1zM1436 832h1v3h-1zM1435 833h1v1h-1z" fill="#a0a0a0"/><path d="M1455 830h1v7h-1zM1456 831h1v5h-1zM1457 832h1v3h-1zM1458 833h1v1h-1z" fill="#a0a0a0"/></svg>
<div class="t s" style="left:1425px;top:30px;font-size:9px;letter-spacing:0.086px;color:#000;">0.72250</div>
<div class="t s" style="left:1425px;top:63px;font-size:9px;letter-spacing:0.086px;color:#000;">0.71900</div>
<div class="t s" style="left:1425px;top:96px;font-size:9px;letter-spacing:0.086px;color:#000;">0.71550</div>
<div class="t s" style="left:1425px;top:129px;font-size:9px;letter-spacing:0.086px;color:#000;">0.71200</div>
<div class="t s" style="left:1425px;top:162px;font-size:9px;letter-spacing:0.086px;color:#000;">0.70850</div>
<div class="t s" style="left:1425px;top:195px;font-size:9px;letter-spacing:0.086px;color:#000;">0.70500</div>
<div class="t s" style="left:1425px;top:228px;font-size:9px;letter-spacing:0.086px;color:#000;">0.70150</div>
<div class="t s" style="left:1425px;top:261px;font-size:9px;letter-spacing:0.086px;color:#000;">0.69800</div>
<div class="t s" style="left:1425px;top:294px;font-size:9px;letter-spacing:0.086px;color:#000;">0.69450</div>
<div class="t s" style="left:1425px;top:327px;font-size:9px;letter-spacing:0.086px;color:#000;">0.69100</div>
<div class="t s" style="left:1425px;top:360px;font-size:9px;letter-spacing:0.086px;color:#000;">0.68750</div>
<div class="t s" style="left:1425px;top:393px;font-size:9px;letter-spacing:0.086px;color:#000;">0.68400</div>
<div class="t s" style="left:1425px;top:426px;font-size:9px;letter-spacing:0.086px;color:#000;">0.68050</div>
<div class="t s" style="left:1425px;top:459px;font-size:9px;letter-spacing:0.086px;color:#000;">0.67710</div>
<div class="t s" style="left:1425px;top:492px;font-size:9px;letter-spacing:0.086px;color:#000;">0.67360</div>
<div class="t s" style="left:1425px;top:525px;font-size:9px;letter-spacing:0.086px;color:#000;">0.67010</div>
<div class="t s" style="left:1425px;top:558px;font-size:9px;letter-spacing:0.086px;color:#000;">0.66660</div>
<div class="t s" style="left:1423px;top:570px;font-size:9px;letter-spacing:0.054px;color:#000;">0.002574</div>
<div class="t s" style="left:1423px;top:594px;font-size:9px;letter-spacing:0.323px;color:#000;">0.00</div>
<div class="t s" style="left:1423px;top:659px;font-size:9px;letter-spacing:0.244px;color:#000;">-0.006326</div>
<div class="t s" style="left:1423px;top:675px;font-size:9px;letter-spacing:0.273px;color:#000;">100</div>
<div class="t s" style="left:1423px;top:708px;font-size:9px;letter-spacing:0.688px;color:#000;">70</div>
<div class="t s" style="left:1423px;top:759px;font-size:9px;letter-spacing:0.688px;color:#000;">30</div>
<div class="t s" style="left:1423px;top:791px;font-size:9px;letter-spacing:0.000px;color:#000;">0</div>
<div class="t s" style="left:4.3px;top:807px;font-size:9px;letter-spacing:0.120px;color:#000;">1 Mar 2019</div>
<div class="t s" style="left:68.3px;top:807px;font-size:9px;letter-spacing:0.120px;color:#000;">11 Mar 2019</div>
<div class="t s" style="left:132.3px;top:807px;font-size:9px;letter-spacing:0.120px;color:#000;">20 Mar 2019</div>
<div class="t s" style="left:196.3px;top:807px;font-size:9px;letter-spacing:0.120px;color:#000;">29 Mar 2019</div>
<div class="t s" style="left:260.3px;top:807px;font-size:9px;letter-spacing:0.120px;color:#000;">8 Apr 2019</div>
<div class="t s" style="left:324.3px;top:807px;font-size:9px;letter-spacing:0.120px;color:#000;">17 Apr 2019</div>
<div class="t s" style="left:388.3px;top:807px;font-size:9px;letter-spacing:0.120px;color:#000;">28 Apr 2019</div>
<div class="t s" style="left:452.3px;top:807px;font-size:9px;letter-spacing:0.120px;color:#000;">7 May 2019</div>
<div class="t s" style="left:516.3px;top:807px;font-size:9px;letter-spacing:0.120px;color:#000;">16 May 2019</div>
<div class="t s" style="left:580.3px;top:807px;font-size:9px;letter-spacing:0.120px;color:#000;">26 May 2019</div>
<div class="t s" style="left:644.3px;top:807px;font-size:9px;letter-spacing:0.120px;color:#000;">4 Jun 2019</div>
<div class="t s" style="left:708.3px;top:807px;font-size:9px;letter-spacing:0.120px;color:#000;">13 Jun 2019</div>
<div class="t s" style="left:772.3px;top:807px;font-size:9px;letter-spacing:0.120px;color:#000;">23 Jun 2019</div>
<div class="t s" style="left:836.3px;top:807px;font-size:9px;letter-spacing:0.120px;color:#000;">2 Jul 2019</div>
<div class="t s" style="left:900.3px;top:807px;font-size:9px;letter-spacing:0.120px;color:#000;">11 Jul 2019</div>
<div class="t s" style="left:964.3px;top:807px;font-size:9px;letter-spacing:0.120px;color:#000;">21 Jul 2019</div>
<div class="t s" style="left:1028.3px;top:807px;font-size:9px;letter-spacing:0.120px;color:#000;">30 Jul 2019</div>
<div class="t s" style="left:1092.3px;top:807px;font-size:9px;letter-spacing:0.120px;color:#000;">8 Aug 2019</div>
<div class="t s" style="left:19.7px;top:30px;font-size:9px;letter-spacing:0.642px;color:#000;">AUDUSD-,Daily</div>
<div class="t s" style="left:94.2px;top:30px;font-size:9px;letter-spacing:-0.004px;color:#000;">0.67760 0.67833 0.67759 0.67790</div>
<div class="t s" style="left:8.5px;top:572px;font-size:9px;letter-spacing:0.418px;color:#000;">MACD(12,26,9)</div>
<div class="t s" style="left:77.3px;top:572px;font-size:9px;letter-spacing:0.002px;color:#000;">-0.005368 -0.005288</div>
<div class="t s" style="left:8.5px;top:677px;font-size:9px;letter-spacing:0.370px;color:#000;">RSI(14)</div>
<div class="t s" style="left:43.2px;top:677px;font-size:9px;letter-spacing:0.003px;color:#000;">33.0672</div>
<div class="t s" style="left:1425.5px;top:451px;font-size:9px;letter-spacing:0.003px;color:#fff;">0.67790</div>
<div class="t s" style="left:1425.5px;top:147px;font-size:9px;letter-spacing:0.003px;color:#fff;">0.71005</div>
<div class="t s" style="left:1425.5px;top:288px;font-size:9px;letter-spacing:0.003px;color:#fff;">0.69503</div>
<div class="t s" style="left:1425.5px;top:369px;font-size:9px;letter-spacing:0.003px;color:#fff;">0.68650</div>
<div class="t s" style="left:1425.5px;top:477px;font-size:9px;letter-spacing:0.003px;color:#fff;">0.67508</div>
<div class="t s" style="left:1425.5px;top:547px;font-size:9px;letter-spacing:0.003px;color:#fff;">0.66767</div>
<div class="t" style="left:7px;top:6px;font-size:10px;letter-spacing:0.000px;color:#3c3c3c;font-family:'Liberation Sans',sans-serif;">H4</div>
<div class="t" style="left:36px;top:6px;font-size:10px;letter-spacing:0.000px;color:#3c3c3c;font-family:'Liberation Sans',sans-serif;">D1</div>
<div class="t" style="left:63.5px;top:6px;font-size:10px;letter-spacing:0.000px;color:#3c3c3c;font-family:'Liberation Sans',sans-serif;">W1</div>
<div class="t" style="left:90px;top:6px;font-size:10px;letter-spacing:0.000px;color:#3c3c3c;font-family:'Liberation Sans',sans-serif;">MN</div>
<div class="t" style="left:16.7px;top:829px;font-size:12px;letter-spacing:0.471px;color:#646464;">EURUSD-,Daily</div>
<div class="t" style="left:124.2px;top:829px;font-size:12px;letter-spacing:0.498px;color:#000;">AUDUSD-,Daily</div>
<div class="t" style="left:234.4px;top:829px;font-size:12px;letter-spacing:0.384px;color:#646464;">USDCHF-,Daily</div>
<div class="t" style="left:340.9px;top:829px;font-size:12px;letter-spacing:0.446px;color:#646464;">USDCAD-,Daily</div>
<div class="t" style="left:450.1px;top:829px;font-size:12px;letter-spacing:0.546px;color:#646464;">USDCNH-,Daily</div>
<div class="t" style="left:561px;top:829px;font-size:12px;letter-spacing:0.605px;color:#646464;">EURCHF-,Weekly</div>
<div class="t" style="left:681.6px;top:829px;font-size:12px;letter-spacing:0.717px;color:#646464;">XAUUSD-,Weekly</div>
<div class="t" style="left:804.4px;top:829px;font-size:12px;letter-spacing:0.703px;color:#646464;">GBPUSD-,H1</div>
<div class="t" style="left:900.6px;top:829px;font-size:12px;letter-spacing:0.770px;color:#646464;">UKOil-,H4</div>
<div class="t" style="left:980px;top:829px;font-size:12px;letter-spacing:0.681px;color:#646464;">USDX-,Weekly</div>
<div class="t" style="left:19.5px;top:51px;font-size:12px;letter-spacing:0.266px;color:#fff;">SELL</div>
<div class="t" style="left:187.5px;top:51px;font-size:12px;letter-spacing:1.297px;color:#fff;">BUY</div>
<div class="t" style="left:123.5px;top:50px;font-size:12px;letter-spacing:0.023px;color:#000;">1.00</div>
<div class="t" style="left:27.5px;top:90px;font-size:12px;letter-spacing:-0.614px;color:#fff;font-weight:bold;">0.67</div>
<div class="t" style="left:137px;top:90px;font-size:12px;letter-spacing:-0.547px;color:#fff;font-weight:bold;">0.67</div>
<div class="t" style="left:94.5px;top:74px;font-size:12px;letter-spacing:0.000px;color:#fff;font-weight:bold;">0</div>
<div class="t" style="left:205.5px;top:74px;font-size:12px;letter-spacing:0.000px;color:#fff;font-weight:bold;">1</div>
</body></html>
